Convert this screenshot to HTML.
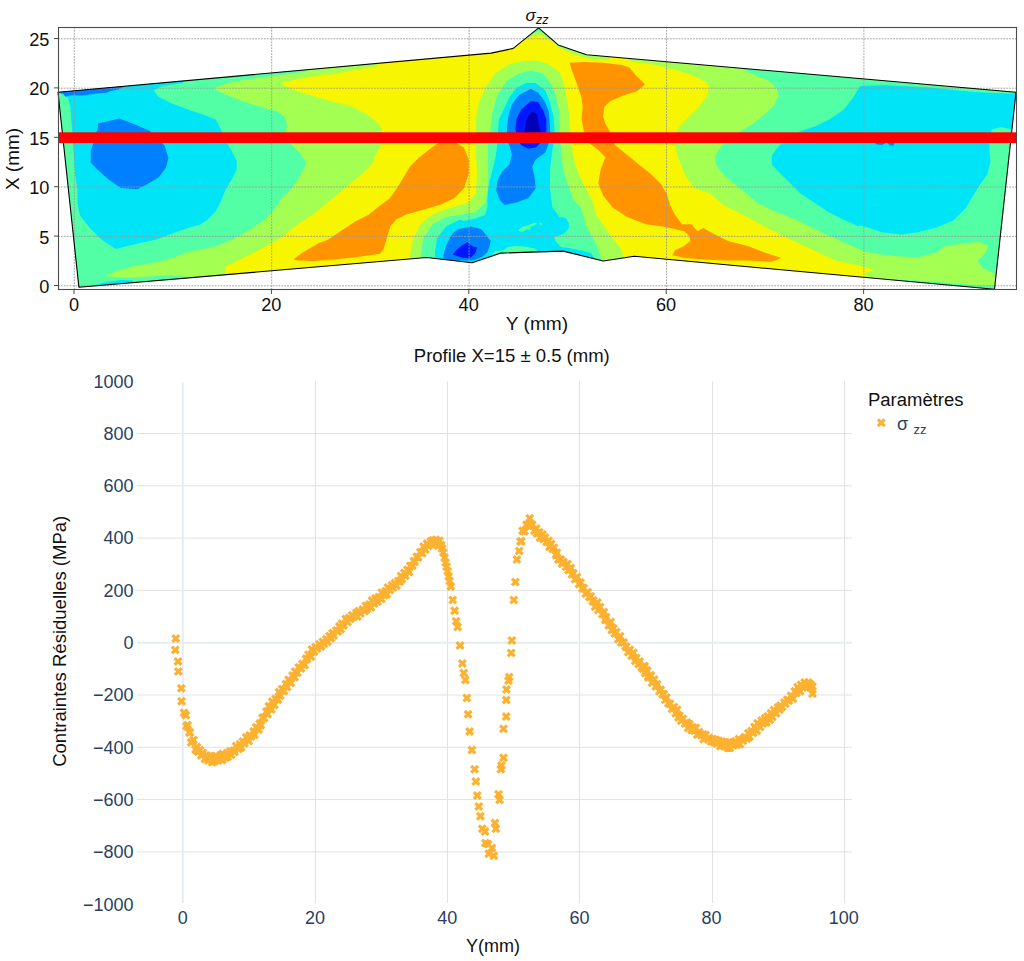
<!DOCTYPE html>
<html><head><meta charset="utf-8"><style>
html,body{margin:0;padding:0;background:#fff;}
svg{display:block;}
svg text{font-family:"Liberation Sans",sans-serif;}
</style></head><body>
<svg width="1024" height="961" viewBox="0 0 1024 961">
<rect width="1024" height="961" fill="#fff"/>
<defs><clipPath id="cp"><path d="M58.0,92.2 L491.2,53.1 L513.2,48.4 L538.6,27.9 L558.2,44.9 L586.5,54.7 L1016.0,92.2 L994.5,289.3 L634.3,256.3 L603.3,261.0 L563.1,251.1 L500.8,253.1 L472.1,262.8 L426.7,257.5 L78.9,287.3 Z"/></clipPath></defs>
<g clip-path="url(#cp)">
<path d="M58.0,92.2 L491.2,53.1 L513.2,48.4 L538.6,27.9 L558.2,44.9 L586.5,54.7 L1016.0,92.2 L994.5,289.3 L634.3,256.3 L603.3,261.0 L563.1,251.1 L500.8,253.1 L472.1,262.8 L426.7,257.5 L78.9,287.3 Z" fill="#f8f500"/>
<path d="M40.0,70.0 L378.0,50.0 L378.0,66.0 L357.2,69.5 L334.3,74.0 L313.7,77.5 L337.3,71.4 L314.4,76.0 L291.6,80.6 L280.1,82.9 L296.1,90.9 L319.0,97.8 L341.9,104.6 L360.0,108.1 L334.3,101.5 L352.6,107.2 L366.4,114.1 L375.5,121.0 L382.4,129.0 L381.3,133.5 L382.0,143.5 L376.1,154.1 L372.6,163.4 L362.0,174.0 L348.0,185.7 L332.7,198.6 L315.2,212.7 L296.4,225.6 L284.7,234.9 L280.0,238.4 L259.5,250.0 L241.2,259.1 L225.2,267.1 L226.0,300.0 L40.0,300.0 Z" fill="#a4ff53"/>
<path d="M409.0,275.0 L409.9,256.0 L412.2,242.3 L419.0,226.2 L428.2,217.1 L441.9,210.2 L468.7,202.6 L475.9,193.1 L477.1,173.9 L475.9,154.8 L475.9,135.7 L475.9,118.9 L478.3,104.6 L485.4,87.8 L495.0,73.5 L509.4,63.9 L523.7,61.0 L535.7,60.6 L547.6,63.4 L559.6,72.3 L564.4,85.4 L566.8,99.8 L569.2,114.1 L570.4,130.9 L571.5,145.2 L573.9,159.6 L578.7,173.9 L585.9,188.3 L593.1,202.6 L595.9,214.6 L612.6,238.5 L622.2,250.5 L624.6,269.6 Z" fill="#a4ff53"/>
<path d="M629.0,40.0 L627.0,57.9 L629.4,61.0 L655.7,65.1 L679.6,71.1 L693.9,75.9 L705.9,81.9 L709.5,87.8 L705.9,97.4 L698.7,107.0 L689.2,116.5 L679.6,126.1 L674.8,135.7 L674.8,145.2 L677.2,154.8 L684.4,173.9 L693.9,188.3 L709.6,193.5 L723.9,205.5 L743.1,215.0 L760.0,224.1 L777.6,233.3 L795.2,241.7 L812.7,249.9 L836.2,260.8 L860.0,265.7 L874.7,270.0 L865.2,272.9 L865.2,299.2 L1030.0,300.0 L1030.0,40.0 Z" fill="#a4ff53"/>
<path d="M525.4,39.6 L534.2,35.7 L542.0,35.7 L551.8,41.6 L538.5,21.1 Z" fill="#a4ff53"/>
<path d="M554.7,36.7 L556.6,46.9 L574.2,54.3 L585.9,58.2 L609.4,60.2 L609.4,44.5 Z" fill="#a4ff53"/>
<path d="M40.0,70.0 L310.0,55.0 L310.0,69.0 L303.0,71.9 L268.7,76.5 L245.8,79.5 L227.5,82.9 L213.7,87.9 L213.7,88.6 L227.5,95.5 L245.8,102.3 L264.1,108.1 L277.8,111.5 L284.7,117.2 L287.0,124.1 L285.8,131.0 L289.3,140.1 L291.6,144.7 L300.7,153.8 L306.4,163.0 L300.7,174.4 L291.6,188.2 L282.4,197.3 L273.2,211.1 L264.1,220.2 L250.4,229.4 L234.3,238.5 L218.3,245.4 L200.0,250.0 L189.9,251.3 L170.8,258.5 L151.7,263.3 L134.9,265.7 L118.2,270.5 L106.2,275.3 L103.8,277.7 L99.1,294.4 L40.0,300.0 Z" fill="#53ffa4"/>
<path d="M95.2,290.3 L95.2,277.4 L104.5,276.2 L125.6,277.7 L149.1,276.5 L172.5,275.3 L186.6,276.7 L191.2,290.3 Z" fill="#53ffa4"/>
<path d="M420.2,269.7 L421.3,251.4 L423.6,237.7 L432.8,224.0 L446.5,217.1 L460.0,214.8 L475.9,212.2 L485.4,202.6 L487.8,188.3 L487.8,169.2 L487.8,145.2 L490.2,130.9 L492.6,111.8 L497.4,95.0 L507.0,80.7 L518.9,73.5 L530.9,70.6 L542.8,73.5 L552.4,85.4 L557.2,99.8 L559.6,114.1 L559.6,130.9 L560.8,145.2 L562.0,159.6 L564.4,173.9 L569.2,188.3 L573.9,200.2 L581.1,207.4 L586.3,226.6 L595.9,243.3 L601.9,260.0 L603.1,269.6 Z" fill="#53ffa4"/>
<path d="M731.1,38.0 L731.1,64.4 L752.6,73.9 L769.4,81.1 L776.5,88.3 L778.9,95.4 L774.1,105.0 L764.6,114.6 L752.6,124.1 L740.7,131.3 L721.5,145.7 L715.5,155.2 L715.5,162.4 L719.1,169.6 L728.7,179.2 L743.1,191.1 L757.4,203.1 L771.8,210.2 L790.9,217.4 L771.7,211.0 L795.2,219.2 L818.6,230.9 L842.0,241.5 L863.1,250.9 L880.0,254.4 L893.9,256.1 L917.8,257.3 L936.9,252.5 L944.1,246.6 L958.5,244.2 L977.6,241.8 L988.4,245.4 L984.8,253.7 L977.6,260.9 L982.4,268.1 L995.5,274.1 L1030.0,280.0 L1030.0,40.0 Z" fill="#53ffa4"/>
<path d="M531.2,33.8 L538.5,31.2 L545.9,33.8 L538.5,21.1 Z" fill="#53ffa4"/>
<path d="M59.6,83.9 L154.1,74.4 L154.1,86.3 L154.1,91.1 L158.8,97.1 L170.8,103.1 L189.9,110.2 L204.3,115.0 L216.0,119.8 L209.2,113.8 L216.0,119.5 L220.6,128.7 L225.2,140.1 L232.0,151.6 L236.6,160.7 L236.6,169.9 L232.0,179.0 L225.2,190.5 L220.6,201.9 L216.0,211.1 L206.9,220.2 L200.0,224.8 L189.9,227.4 L175.6,232.2 L156.5,239.4 L134.9,244.2 L115.8,249.0 L101.4,239.4 L89.5,227.4 L79.9,215.5 L77.5,203.5 L77.5,189.2 L75.1,174.8 L73.9,155.7 L72.7,136.5 L71.5,122.2 L70.4,107.8 L68.0,98.3 L60.8,93.5 L56.0,83.9 Z" fill="#00e4f8"/>
<path d="M90.5,290.3 L92.8,285.6 L106.9,281.9 L120.9,280.0 L132.7,280.2 L137.3,290.3 Z" fill="#00e4f8"/>
<path d="M435.0,269.7 L435.0,251.4 L437.3,237.7 L446.5,226.2 L460.0,219.4 L463.7,221.1 L474.9,218.7 L484.9,214.9 L487.4,207.4 L487.4,199.9 L488.1,189.9 L489.9,179.9 L492.4,170.0 L495.5,157.5 L497.4,143.7 L498.0,131.2 L498.7,120.0 L509.4,97.4 L516.5,87.8 L526.1,83.1 L535.7,83.1 L545.2,90.2 L550.0,102.2 L553.6,116.5 L554.8,135.7 L552.4,150.0 L550.0,169.2 L550.0,188.3 L552.4,207.4 L559.6,217.0 L565.8,218.0 L568.9,223.4 L568.9,228.1 L565.0,232.8 L560.3,235.2 L554.1,236.7 L555.6,241.4 L561.1,246.9 L567.3,247.7 L575.2,249.2 L583.0,250.8 L590.8,253.1 L593.9,257.0 L594.7,262.5 L497.4,269.6 Z" fill="#00e4f8"/>
<path d="M491.7,254.1 L495.6,251.3 L503.4,250.2 L508.1,247.0 L515.2,245.9 L522.2,246.2 L526.9,247.0 L534.7,248.6 L538.6,251.7 L539.4,255.6 Z" fill="#53ffa4"/>
<path d="M518.3,230.6 L522.2,226.7 L528.4,225.2 L534.7,222.4 L537.0,223.6 L534.7,225.2 L530.8,226.7 L530.0,230.2 L526.9,229.1 L522.2,232.2 Z" fill="#53ffa4"/>
<path d="M539.4,223.2 L540.9,222.7 L542.1,224.0 L540.5,225.2 Z" fill="#53ffa4"/>
<path d="M880.0,290.0 L890.0,279.5 L920.0,280.5 L950.0,283.0 L980.0,285.5 L996.0,286.0 L996.0,300.0 L880.0,300.0 Z" fill="#53ffa4"/>
<path d="M860.0,85.9 L853.1,97.8 L843.5,109.8 L829.2,119.4 L814.8,126.5 L800.5,131.3 L778.9,145.7 L771.8,155.2 L771.8,164.8 L781.3,174.4 L790.9,183.9 L800.5,193.5 L814.8,203.1 L829.2,212.6 L843.5,219.8 L860.0,227.0 L858.0,225.0 L867.6,227.4 L881.9,232.2 L901.1,234.6 L917.8,232.2 L936.9,227.4 L953.7,220.2 L965.6,208.3 L972.8,196.3 L980.0,184.4 L987.2,174.8 L990.7,160.5 L989.5,150.9 L989.5,138.9 L991.9,129.4 L1001.5,127.0 L1011.1,129.4 L1025.4,129.4 L1025.4,93.5 L1006.3,93.5 L977.6,92.3 L953.7,89.9 L929.8,87.5 L905.8,86.3 L881.9,85.1 L858.0,86.3 Z" fill="#00e4f8"/>
<path d="M535.5,29.7 L538.5,28.9 L541.4,29.7 L538.5,21.1 Z" fill="#00e4f8"/>
<path d="M149.4,75.6 L185.3,74.1 L183.0,83.0 L171.2,84.7 L160.3,86.6 L154.8,90.0 L149.4,90.5 Z" fill="#00e4f8"/>
<path d="M97.9,123.4 L119.4,118.6 L134.9,124.6 L149.3,130.6 L158.8,138.9 L164.8,146.1 L168.4,158.1 L166.0,167.6 L158.8,177.2 L146.9,184.4 L137.3,189.2 L120.6,188.0 L108.6,179.6 L97.9,170.0 L90.7,162.8 L90.7,150.9 L95.5,136.5 L97.9,127.0 Z" fill="#0080ff"/>
<path d="M58.3,90.2 L126.3,84.7 L122.4,87.8 L118.5,89.4 L110.7,90.9 L106.8,92.7 L99.0,93.3 L91.2,94.2 L85.7,95.3 L79.4,95.6 L71.6,95.3 L65.4,96.4 L63.0,93.4 L59.1,92.9 Z" fill="#0080ff"/>
<path d="M874.7,141.3 L893.9,141.3 L893.9,145.6 L890.3,145.6 L886.7,142.5 L881.9,144.9 L875.9,144.2 Z" fill="#0080ff"/>
<path d="M530.9,89.0 L518.9,95.0 L511.8,104.6 L508.2,116.5 L507.0,128.5 L507.0,140.5 L509.4,145.2 L511.8,154.8 L509.4,164.4 L502.2,171.5 L497.4,181.1 L496.2,190.7 L499.8,200.2 L504.6,205.0 L516.5,202.6 L528.5,197.9 L535.7,188.3 L534.5,176.3 L532.1,166.8 L535.7,159.6 L545.2,152.4 L550.0,140.5 L550.0,126.1 L548.8,111.8 L545.2,102.2 L538.1,92.6 Z" fill="#0080ff"/>
<path d="M530.9,101.0 L521.3,109.4 L516.5,118.9 L515.3,128.5 L517.7,140.5 L521.3,145.2 L528.5,148.8 L535.7,147.6 L542.8,140.5 L546.4,130.9 L546.4,118.9 L542.8,109.4 L538.1,102.2 Z" fill="#0018ff"/>
<path d="M532.1,111.8 L536.9,114.1 L538.1,121.3 L539.3,126.1 L540.5,130.9 L540.5,135.7 L523.7,135.7 L524.9,128.5 L526.1,121.3 L528.5,115.3 Z" fill="#0000b6"/>
<path d="M443.4,255.2 L445.7,246.4 L450.4,237.0 L453.9,232.3 L459.1,229.0 L471.1,226.6 L480.7,229.0 L482.0,230.0 L486.7,235.9 L490.8,241.1 L489.1,247.6 L487.3,252.3 L482.0,257.0 L472.7,260.5 L443.4,260.5 Z" fill="#0080ff"/>
<path d="M452.7,254.6 L456.3,249.9 L462.1,245.2 L467.4,242.3 L472.7,246.4 L477.3,247.6 L475.0,253.4 L470.3,258.1 L463.3,258.1 L458.6,256.4 Z" fill="#0018ff"/>
<path d="M293.8,259.1 L303.0,252.3 L319.0,243.1 L327.5,240.0 L341.2,230.8 L354.9,221.7 L368.7,214.8 L380.1,205.6 L389.3,198.8 L396.1,189.6 L403.0,178.2 L409.9,166.7 L419.0,157.6 L430.5,148.4 L437.3,143.8 L440.0,142.8 L452.0,140.5 L463.9,147.6 L468.7,159.6 L468.7,173.9 L463.9,188.3 L454.4,197.9 L440.0,205.0 L437.3,205.6 L421.3,210.2 L405.3,214.8 L396.1,219.4 L390.4,226.2 L387.0,237.7 L383.5,249.1 L380.1,253.7 L357.2,257.1 L334.3,259.4 L311.4,260.6 L300.0,260.6 L337.3,260.3 L314.4,261.0 L296.1,260.3 Z" fill="#ff9400"/>
<path d="M569.6,62.7 L583.9,62.0 L603.1,62.7 L622.2,65.1 L629.4,67.5 L636.5,75.9 L644.9,84.2 L641.3,87.8 L636.5,91.4 L624.6,95.0 L610.2,101.0 L604.2,107.0 L603.1,116.5 L605.4,123.7 L610.2,132.1 L615.0,145.2 L627.0,154.8 L638.9,164.4 L650.9,173.9 L660.5,183.5 L666.4,193.1 L670.0,205.0 L674.8,214.6 L682.0,224.2 L691.5,224.2 L697.5,231.3 L703.5,227.8 L703.6,228.2 L714.4,234.2 L728.7,241.3 L747.8,246.1 L767.0,253.3 L781.3,258.1 L771.8,261.7 L747.8,260.5 L723.9,260.5 L700.0,259.3 L684.4,257.7 L672.4,255.3 L674.8,250.5 L684.4,245.7 L690.4,240.9 L689.2,236.1 L684.4,231.3 L674.8,229.0 L662.8,226.6 L646.1,224.2 L627.0,217.0 L612.6,207.4 L603.1,195.5 L598.3,183.5 L600.7,169.2 L605.4,157.2 L598.3,150.0 L588.7,142.8 L583.9,130.9 L581.5,118.9 L582.7,107.0 L581.5,97.4 L576.7,83.1 L572.0,71.1 Z" fill="#ff9400"/>
</g>
<g stroke="#9a9a9a" stroke-width="0.9" stroke-dasharray="1.8,1.1"><line x1="74.3" y1="27" x2="74.3" y2="290" /><line x1="271.7" y1="27" x2="271.7" y2="290" /><line x1="469.1" y1="27" x2="469.1" y2="290" /><line x1="666.5" y1="27" x2="666.5" y2="290" /><line x1="863.9" y1="27" x2="863.9" y2="290" /><line x1="58" y1="285.8" x2="1016" y2="285.8" /><line x1="58" y1="236.4" x2="1016" y2="236.4" /><line x1="58" y1="187.0" x2="1016" y2="187.0" /><line x1="58" y1="137.6" x2="1016" y2="137.6" /><line x1="58" y1="88.2" x2="1016" y2="88.2" /><line x1="58" y1="38.8" x2="1016" y2="38.8" /></g>
<path d="M58.0,92.2 L491.2,53.1 L513.2,48.4 L538.6,27.9 L558.2,44.9 L586.5,54.7 L1016.0,92.2 L994.5,289.3 L634.3,256.3 L603.3,261.0 L563.1,251.1 L500.8,253.1 L472.1,262.8 L426.7,257.5 L78.9,287.3 Z" fill="none" stroke="#000" stroke-width="1.1" stroke-linejoin="round"/>
<rect x="58" y="132.3" width="958.5" height="10.8" fill="#ff0000"/>
<rect x="58.5" y="27.5" width="958" height="262" fill="none" stroke="#4a4a4a" stroke-width="1.1"/>
<g stroke="#4a4a4a" stroke-width="1"><line x1="74.0" y1="290" x2="74.0" y2="294"/><line x1="271.4" y1="290" x2="271.4" y2="294"/><line x1="468.8" y1="290" x2="468.8" y2="294"/><line x1="666.2" y1="290" x2="666.2" y2="294"/><line x1="863.6" y1="290" x2="863.6" y2="294"/><line x1="54" y1="285.5" x2="58" y2="285.5"/><line x1="54" y1="236.1" x2="58" y2="236.1"/><line x1="54" y1="186.7" x2="58" y2="186.7"/><line x1="54" y1="137.3" x2="58" y2="137.3"/><line x1="54" y1="87.9" x2="58" y2="87.9"/><line x1="54" y1="38.5" x2="58" y2="38.5"/></g>
<g font-family="Liberation Sans, sans-serif" font-size="18.3" fill="#111"><text x="39.3" y="292.9" textLength="10.1" lengthAdjust="spacingAndGlyphs">0</text><text x="39.3" y="243.5" textLength="10.1" lengthAdjust="spacingAndGlyphs">5</text><text x="29.2" y="194.1" textLength="20.2" lengthAdjust="spacingAndGlyphs">10</text><text x="29.2" y="144.7" textLength="20.2" lengthAdjust="spacingAndGlyphs">15</text><text x="29.2" y="95.3" textLength="20.2" lengthAdjust="spacingAndGlyphs">20</text><text x="29.2" y="45.9" textLength="20.2" lengthAdjust="spacingAndGlyphs">25</text><text x="68.9" y="310.7" textLength="10.1" lengthAdjust="spacingAndGlyphs">0</text><text x="261.2" y="310.7" textLength="20.2" lengthAdjust="spacingAndGlyphs">20</text><text x="458.6" y="310.7" textLength="20.2" lengthAdjust="spacingAndGlyphs">40</text><text x="656.0" y="310.7" textLength="20.2" lengthAdjust="spacingAndGlyphs">60</text><text x="853.4" y="310.7" textLength="20.2" lengthAdjust="spacingAndGlyphs">80</text></g>
<text x="505.8" y="330.2" textLength="62.4" lengthAdjust="spacingAndGlyphs" font-family="Liberation Sans, sans-serif" font-size="17.5" fill="#111">Y (mm)</text>
<text transform="translate(19.2,159) rotate(-90)" x="-31" textLength="62" lengthAdjust="spacingAndGlyphs" font-family="Liberation Sans, sans-serif" font-size="17.5" fill="#111">X (mm)</text>
<text x="537" y="21" text-anchor="middle" font-family="Liberation Sans, sans-serif" font-size="17" fill="#111" font-style="italic">σ<tspan font-size="12.5" dy="3">zz</tspan></text>
<line x1="137" y1="433.5" x2="852" y2="433.5" stroke="#e2e2e2" stroke-width="1"/><line x1="137" y1="485.8" x2="852" y2="485.8" stroke="#e2e2e2" stroke-width="1"/><line x1="137" y1="538.1" x2="852" y2="538.1" stroke="#e2e2e2" stroke-width="1"/><line x1="137" y1="590.4" x2="852" y2="590.4" stroke="#e2e2e2" stroke-width="1"/><line x1="137" y1="695.0" x2="852" y2="695.0" stroke="#e2e2e2" stroke-width="1"/><line x1="137" y1="747.3" x2="852" y2="747.3" stroke="#e2e2e2" stroke-width="1"/><line x1="137" y1="799.6" x2="852" y2="799.6" stroke="#e2e2e2" stroke-width="1"/><line x1="137" y1="851.9" x2="852" y2="851.9" stroke="#e2e2e2" stroke-width="1"/><line x1="315.5" y1="381.7" x2="315.5" y2="903" stroke="#e2e2e2" stroke-width="1"/><line x1="447.5" y1="381.7" x2="447.5" y2="903" stroke="#e2e2e2" stroke-width="1"/><line x1="579.5" y1="381.7" x2="579.5" y2="903" stroke="#e2e2e2" stroke-width="1"/><line x1="712.5" y1="381.7" x2="712.5" y2="903" stroke="#e2e2e2" stroke-width="1"/><line x1="844.5" y1="381.7" x2="844.5" y2="903" stroke="#e2e2e2" stroke-width="1"/><line x1="137" y1="642.7" x2="852" y2="642.7" stroke="#e6ecf6" stroke-width="2"/><line x1="182.8" y1="381.7" x2="182.8" y2="903" stroke="#e6ecf6" stroke-width="2"/>
<g font-family="Liberation Sans, sans-serif" font-size="18" fill="#2a3f5f"><text x="133.5" y="387.5" text-anchor="end">1000</text><text x="133.5" y="439.8" text-anchor="end">800</text><text x="133.5" y="492.1" text-anchor="end">600</text><text x="133.5" y="544.4" text-anchor="end">400</text><text x="133.5" y="596.7" text-anchor="end">200</text><text x="133.5" y="649.0" text-anchor="end">0</text><text x="133.5" y="701.3" text-anchor="end">−200</text><text x="133.5" y="753.6" text-anchor="end">−400</text><text x="133.5" y="805.9" text-anchor="end">−600</text><text x="133.5" y="858.2" text-anchor="end">−800</text><text x="133.5" y="910.5" text-anchor="end">−1000</text><text x="182.8" y="923.8" text-anchor="middle">0</text><text x="315.0" y="923.8" text-anchor="middle">20</text><text x="447.2" y="923.8" text-anchor="middle">40</text><text x="579.4" y="923.8" text-anchor="middle">60</text><text x="711.6" y="923.8" text-anchor="middle">80</text><text x="843.8" y="923.8" text-anchor="middle">100</text></g>
<text x="413.8" y="362" textLength="196" lengthAdjust="spacingAndGlyphs" font-family="Liberation Sans, sans-serif" font-size="18.3" fill="#111">Profile X=15 ± 0.5 (mm)</text>
<text x="493" y="952" text-anchor="middle" font-family="Liberation Sans, sans-serif" font-size="18" fill="#111">Y(mm)</text>
<text transform="translate(65.6,641.3) rotate(-90)" x="-125.5" textLength="251" lengthAdjust="spacingAndGlyphs" font-family="Liberation Sans, sans-serif" font-size="18.2" fill="#111">Contraintes Résiduelles (MPa)</text>
<text x="868" y="406" textLength="95.5" lengthAdjust="spacingAndGlyphs" font-family="Liberation Sans, sans-serif" font-size="18" fill="#111">Paramètres</text>
<text x="897" y="430" font-family="Liberation Sans, sans-serif" font-size="18" fill="#2a3f5f">σ<tspan font-size="13" dx="5.5" dy="4">zz</tspan></text>
<path d="M175.8,640.86l2.26,2.26l2.26,-2.26l-2.26,-2.26l2.26,-2.26l-2.26,-2.26l-2.26,2.26l-2.26,-2.26l-2.26,2.26l2.26,2.26l-2.26,2.26l2.26,2.26ZM175.3,652.26l2.26,2.26l2.26,-2.26l-2.26,-2.26l2.26,-2.26l-2.26,-2.26l-2.26,2.26l-2.26,-2.26l-2.26,2.26l2.26,2.26l-2.26,2.26l2.26,2.26ZM178.0,663.86l2.26,2.26l2.26,-2.26l-2.26,-2.26l2.26,-2.26l-2.26,-2.26l-2.26,2.26l-2.26,-2.26l-2.26,2.26l2.26,2.26l-2.26,2.26l2.26,2.26ZM178.3,673.86l2.26,2.26l2.26,-2.26l-2.26,-2.26l2.26,-2.26l-2.26,-2.26l-2.26,2.26l-2.26,-2.26l-2.26,2.26l2.26,2.26l-2.26,2.26l2.26,2.26ZM181.3,690.46l2.26,2.26l2.26,-2.26l-2.26,-2.26l2.26,-2.26l-2.26,-2.26l-2.26,2.26l-2.26,-2.26l-2.26,2.26l2.26,2.26l-2.26,2.26l2.26,2.26ZM181.6,703.46l2.26,2.26l2.26,-2.26l-2.26,-2.26l2.26,-2.26l-2.26,-2.26l-2.26,2.26l-2.26,-2.26l-2.26,2.26l2.26,2.26l-2.26,2.26l2.26,2.26ZM442.2,550.76l2.26,2.26l2.26,-2.26l-2.26,-2.26l2.26,-2.26l-2.26,-2.26l-2.26,2.26l-2.26,-2.26l-2.26,2.26l2.26,2.26l-2.26,2.26l2.26,2.26ZM443.4,554.86l2.26,2.26l2.26,-2.26l-2.26,-2.26l2.26,-2.26l-2.26,-2.26l-2.26,2.26l-2.26,-2.26l-2.26,2.26l2.26,2.26l-2.26,2.26l2.26,2.26ZM444.6,559.96l2.26,2.26l2.26,-2.26l-2.26,-2.26l2.26,-2.26l-2.26,-2.26l-2.26,2.26l-2.26,-2.26l-2.26,2.26l2.26,2.26l-2.26,2.26l2.26,2.26ZM445.6,564.76l2.26,2.26l2.26,-2.26l-2.26,-2.26l2.26,-2.26l-2.26,-2.26l-2.26,2.26l-2.26,-2.26l-2.26,2.26l2.26,2.26l-2.26,2.26l2.26,2.26ZM446.6,569.06l2.26,2.26l2.26,-2.26l-2.26,-2.26l2.26,-2.26l-2.26,-2.26l-2.26,2.26l-2.26,-2.26l-2.26,2.26l2.26,2.26l-2.26,2.26l2.26,2.26ZM448.6,578.76l2.26,2.26l2.26,-2.26l-2.26,-2.26l2.26,-2.26l-2.26,-2.26l-2.26,2.26l-2.26,-2.26l-2.26,2.26l2.26,2.26l-2.26,2.26l2.26,2.26ZM449.6,583.26l2.26,2.26l2.26,-2.26l-2.26,-2.26l2.26,-2.26l-2.26,-2.26l-2.26,2.26l-2.26,-2.26l-2.26,2.26l2.26,2.26l-2.26,2.26l2.26,2.26ZM447.7,573.46l2.26,2.26l2.26,-2.26l-2.26,-2.26l2.26,-2.26l-2.26,-2.26l-2.26,2.26l-2.26,-2.26l-2.26,2.26l2.26,2.26l-2.26,2.26l2.26,2.26ZM450.8,588.76l2.26,2.26l2.26,-2.26l-2.26,-2.26l2.26,-2.26l-2.26,-2.26l-2.26,2.26l-2.26,-2.26l-2.26,2.26l2.26,2.26l-2.26,2.26l2.26,2.26ZM452.7,602.26l2.26,2.26l2.26,-2.26l-2.26,-2.26l2.26,-2.26l-2.26,-2.26l-2.26,2.26l-2.26,-2.26l-2.26,2.26l2.26,2.26l-2.26,2.26l2.26,2.26ZM454.6,613.06l2.26,2.26l2.26,-2.26l-2.26,-2.26l2.26,-2.26l-2.26,-2.26l-2.26,2.26l-2.26,-2.26l-2.26,2.26l2.26,2.26l-2.26,2.26l2.26,2.26ZM456.2,623.46l2.26,2.26l2.26,-2.26l-2.26,-2.26l2.26,-2.26l-2.26,-2.26l-2.26,2.26l-2.26,-2.26l-2.26,2.26l2.26,2.26l-2.26,2.26l2.26,2.26ZM457.7,629.16l2.26,2.26l2.26,-2.26l-2.26,-2.26l2.26,-2.26l-2.26,-2.26l-2.26,2.26l-2.26,-2.26l-2.26,2.26l2.26,2.26l-2.26,2.26l2.26,2.26ZM460.0,647.66l2.26,2.26l2.26,-2.26l-2.26,-2.26l2.26,-2.26l-2.26,-2.26l-2.26,2.26l-2.26,-2.26l-2.26,2.26l2.26,2.26l-2.26,2.26l2.26,2.26ZM462.3,665.76l2.26,2.26l2.26,-2.26l-2.26,-2.26l2.26,-2.26l-2.26,-2.26l-2.26,2.26l-2.26,-2.26l-2.26,2.26l2.26,2.26l-2.26,2.26l2.26,2.26ZM463.8,675.36l2.26,2.26l2.26,-2.26l-2.26,-2.26l2.26,-2.26l-2.26,-2.26l-2.26,2.26l-2.26,-2.26l-2.26,2.26l2.26,2.26l-2.26,2.26l2.26,2.26ZM465.4,682.26l2.26,2.26l2.26,-2.26l-2.26,-2.26l2.26,-2.26l-2.26,-2.26l-2.26,2.26l-2.26,-2.26l-2.26,2.26l2.26,2.26l-2.26,2.26l2.26,2.26ZM466.9,700.36l2.26,2.26l2.26,-2.26l-2.26,-2.26l2.26,-2.26l-2.26,-2.26l-2.26,2.26l-2.26,-2.26l-2.26,2.26l2.26,2.26l-2.26,2.26l2.26,2.26ZM468.1,716.46l2.26,2.26l2.26,-2.26l-2.26,-2.26l2.26,-2.26l-2.26,-2.26l-2.26,2.26l-2.26,-2.26l-2.26,2.26l2.26,2.26l-2.26,2.26l2.26,2.26ZM469.6,733.76l2.26,2.26l2.26,-2.26l-2.26,-2.26l2.26,-2.26l-2.26,-2.26l-2.26,2.26l-2.26,-2.26l-2.26,2.26l2.26,2.26l-2.26,2.26l2.26,2.26ZM471.9,752.26l2.26,2.26l2.26,-2.26l-2.26,-2.26l2.26,-2.26l-2.26,-2.26l-2.26,2.26l-2.26,-2.26l-2.26,2.26l2.26,2.26l-2.26,2.26l2.26,2.26ZM474.6,771.46l2.26,2.26l2.26,-2.26l-2.26,-2.26l2.26,-2.26l-2.26,-2.26l-2.26,2.26l-2.26,-2.26l-2.26,2.26l2.26,2.26l-2.26,2.26l2.26,2.26ZM475.8,783.76l2.26,2.26l2.26,-2.26l-2.26,-2.26l2.26,-2.26l-2.26,-2.26l-2.26,2.26l-2.26,-2.26l-2.26,2.26l2.26,2.26l-2.26,2.26l2.26,2.26ZM477.3,797.66l2.26,2.26l2.26,-2.26l-2.26,-2.26l2.26,-2.26l-2.26,-2.26l-2.26,2.26l-2.26,-2.26l-2.26,2.26l2.26,2.26l-2.26,2.26l2.26,2.26ZM478.8,808.76l2.26,2.26l2.26,-2.26l-2.26,-2.26l2.26,-2.26l-2.26,-2.26l-2.26,2.26l-2.26,-2.26l-2.26,2.26l2.26,2.26l-2.26,2.26l2.26,2.26ZM480.4,818.46l2.26,2.26l2.26,-2.26l-2.26,-2.26l2.26,-2.26l-2.26,-2.26l-2.26,2.26l-2.26,-2.26l-2.26,2.26l2.26,2.26l-2.26,2.26l2.26,2.26ZM482.3,831.06l2.26,2.26l2.26,-2.26l-2.26,-2.26l2.26,-2.26l-2.26,-2.26l-2.26,2.26l-2.26,-2.26l-2.26,2.26l2.26,2.26l-2.26,2.26l2.26,2.26ZM485.0,833.76l2.26,2.26l2.26,-2.26l-2.26,-2.26l2.26,-2.26l-2.26,-2.26l-2.26,2.26l-2.26,-2.26l-2.26,2.26l2.26,2.26l-2.26,2.26l2.26,2.26ZM485.4,845.36l2.26,2.26l2.26,-2.26l-2.26,-2.26l2.26,-2.26l-2.26,-2.26l-2.26,2.26l-2.26,-2.26l-2.26,2.26l2.26,2.26l-2.26,2.26l2.26,2.26ZM488.1,846.46l2.26,2.26l2.26,-2.26l-2.26,-2.26l2.26,-2.26l-2.26,-2.26l-2.26,2.26l-2.26,-2.26l-2.26,2.26l2.26,2.26l-2.26,2.26l2.26,2.26ZM488.8,856.06l2.26,2.26l2.26,-2.26l-2.26,-2.26l2.26,-2.26l-2.26,-2.26l-2.26,2.26l-2.26,-2.26l-2.26,2.26l2.26,2.26l-2.26,2.26l2.26,2.26ZM491.9,850.36l2.26,2.26l2.26,-2.26l-2.26,-2.26l2.26,-2.26l-2.26,-2.26l-2.26,2.26l-2.26,-2.26l-2.26,2.26l2.26,2.26l-2.26,2.26l2.26,2.26ZM493.8,858.06l2.26,2.26l2.26,-2.26l-2.26,-2.26l2.26,-2.26l-2.26,-2.26l-2.26,2.26l-2.26,-2.26l-2.26,2.26l2.26,2.26l-2.26,2.26l2.26,2.26ZM495.0,825.36l2.26,2.26l2.26,-2.26l-2.26,-2.26l2.26,-2.26l-2.26,-2.26l-2.26,2.26l-2.26,-2.26l-2.26,2.26l2.26,2.26l-2.26,2.26l2.26,2.26ZM495.8,831.06l2.26,2.26l2.26,-2.26l-2.26,-2.26l2.26,-2.26l-2.26,-2.26l-2.26,2.26l-2.26,-2.26l-2.26,2.26l2.26,2.26l-2.26,2.26l2.26,2.26ZM498.5,796.46l2.26,2.26l2.26,-2.26l-2.26,-2.26l2.26,-2.26l-2.26,-2.26l-2.26,2.26l-2.26,-2.26l-2.26,2.26l2.26,2.26l-2.26,2.26l2.26,2.26ZM499.6,802.26l2.26,2.26l2.26,-2.26l-2.26,-2.26l2.26,-2.26l-2.26,-2.26l-2.26,2.26l-2.26,-2.26l-2.26,2.26l2.26,2.26l-2.26,2.26l2.26,2.26ZM500.8,771.46l2.26,2.26l2.26,-2.26l-2.26,-2.26l2.26,-2.26l-2.26,-2.26l-2.26,2.26l-2.26,-2.26l-2.26,2.26l2.26,2.26l-2.26,2.26l2.26,2.26ZM501.5,767.66l2.26,2.26l2.26,-2.26l-2.26,-2.26l2.26,-2.26l-2.26,-2.26l-2.26,2.26l-2.26,-2.26l-2.26,2.26l2.26,2.26l-2.26,2.26l2.26,2.26ZM503.5,759.96l2.26,2.26l2.26,-2.26l-2.26,-2.26l2.26,-2.26l-2.26,-2.26l-2.26,2.26l-2.26,-2.26l-2.26,2.26l2.26,2.26l-2.26,2.26l2.26,2.26ZM503.5,731.06l2.26,2.26l2.26,-2.26l-2.26,-2.26l2.26,-2.26l-2.26,-2.26l-2.26,2.26l-2.26,-2.26l-2.26,2.26l2.26,2.26l-2.26,2.26l2.26,2.26ZM506.2,718.76l2.26,2.26l2.26,-2.26l-2.26,-2.26l2.26,-2.26l-2.26,-2.26l-2.26,2.26l-2.26,-2.26l-2.26,2.26l2.26,2.26l-2.26,2.26l2.26,2.26ZM506.2,702.26l2.26,2.26l2.26,-2.26l-2.26,-2.26l2.26,-2.26l-2.26,-2.26l-2.26,2.26l-2.26,-2.26l-2.26,2.26l2.26,2.26l-2.26,2.26l2.26,2.26ZM506.5,691.86l2.26,2.26l2.26,-2.26l-2.26,-2.26l2.26,-2.26l-2.26,-2.26l-2.26,2.26l-2.26,-2.26l-2.26,2.26l2.26,2.26l-2.26,2.26l2.26,2.26ZM508.5,683.06l2.26,2.26l2.26,-2.26l-2.26,-2.26l2.26,-2.26l-2.26,-2.26l-2.26,2.26l-2.26,-2.26l-2.26,2.26l2.26,2.26l-2.26,2.26l2.26,2.26ZM509.2,679.16l2.26,2.26l2.26,-2.26l-2.26,-2.26l2.26,-2.26l-2.26,-2.26l-2.26,2.26l-2.26,-2.26l-2.26,2.26l2.26,2.26l-2.26,2.26l2.26,2.26ZM511.2,655.36l2.26,2.26l2.26,-2.26l-2.26,-2.26l2.26,-2.26l-2.26,-2.26l-2.26,2.26l-2.26,-2.26l-2.26,2.26l2.26,2.26l-2.26,2.26l2.26,2.26ZM511.9,642.66l2.26,2.26l2.26,-2.26l-2.26,-2.26l2.26,-2.26l-2.26,-2.26l-2.26,2.26l-2.26,-2.26l-2.26,2.26l2.26,2.26l-2.26,2.26l2.26,2.26ZM513.8,602.26l2.26,2.26l2.26,-2.26l-2.26,-2.26l2.26,-2.26l-2.26,-2.26l-2.26,2.26l-2.26,-2.26l-2.26,2.26l2.26,2.26l-2.26,2.26l2.26,2.26ZM515.4,584.16l2.26,2.26l2.26,-2.26l-2.26,-2.26l2.26,-2.26l-2.26,-2.26l-2.26,2.26l-2.26,-2.26l-2.26,2.26l2.26,2.26l-2.26,2.26l2.26,2.26ZM516.9,561.86l2.26,2.26l2.26,-2.26l-2.26,-2.26l2.26,-2.26l-2.26,-2.26l-2.26,2.26l-2.26,-2.26l-2.26,2.26l2.26,2.26l-2.26,2.26l2.26,2.26ZM812.5,696.06l2.26,2.26l2.26,-2.26l-2.26,-2.26l2.26,-2.26l-2.26,-2.26l-2.26,2.26l-2.26,-2.26l-2.26,2.26l2.26,2.26l-2.26,2.26l2.26,2.26ZM184.0,715.10l2.26,2.26l2.26,-2.26l-2.26,-2.26l2.26,-2.26l-2.26,-2.26l-2.26,2.26l-2.26,-2.26l-2.26,2.26l2.26,2.26l-2.26,2.26l2.26,2.26ZM185.9,717.53l2.26,2.26l2.26,-2.26l-2.26,-2.26l2.26,-2.26l-2.26,-2.26l-2.26,2.26l-2.26,-2.26l-2.26,2.26l2.26,2.26l-2.26,2.26l2.26,2.26ZM186.6,728.47l2.26,2.26l2.26,-2.26l-2.26,-2.26l2.26,-2.26l-2.26,-2.26l-2.26,2.26l-2.26,-2.26l-2.26,2.26l2.26,2.26l-2.26,2.26l2.26,2.26ZM187.5,727.24l2.26,2.26l2.26,-2.26l-2.26,-2.26l2.26,-2.26l-2.26,-2.26l-2.26,2.26l-2.26,-2.26l-2.26,2.26l2.26,2.26l-2.26,2.26l2.26,2.26ZM189.3,734.86l2.26,2.26l2.26,-2.26l-2.26,-2.26l2.26,-2.26l-2.26,-2.26l-2.26,2.26l-2.26,-2.26l-2.26,2.26l2.26,2.26l-2.26,2.26l2.26,2.26ZM189.9,734.64l2.26,2.26l2.26,-2.26l-2.26,-2.26l2.26,-2.26l-2.26,-2.26l-2.26,2.26l-2.26,-2.26l-2.26,2.26l2.26,2.26l-2.26,2.26l2.26,2.26ZM191.1,744.80l2.26,2.26l2.26,-2.26l-2.26,-2.26l2.26,-2.26l-2.26,-2.26l-2.26,2.26l-2.26,-2.26l-2.26,2.26l2.26,2.26l-2.26,2.26l2.26,2.26ZM193.5,742.31l2.26,2.26l2.26,-2.26l-2.26,-2.26l2.26,-2.26l-2.26,-2.26l-2.26,2.26l-2.26,-2.26l-2.26,2.26l2.26,2.26l-2.26,2.26l2.26,2.26ZM195.6,751.88l2.26,2.26l2.26,-2.26l-2.26,-2.26l2.26,-2.26l-2.26,-2.26l-2.26,2.26l-2.26,-2.26l-2.26,2.26l2.26,2.26l-2.26,2.26l2.26,2.26ZM196.9,749.27l2.26,2.26l2.26,-2.26l-2.26,-2.26l2.26,-2.26l-2.26,-2.26l-2.26,2.26l-2.26,-2.26l-2.26,2.26l2.26,2.26l-2.26,2.26l2.26,2.26ZM197.9,754.06l2.26,2.26l2.26,-2.26l-2.26,-2.26l2.26,-2.26l-2.26,-2.26l-2.26,2.26l-2.26,-2.26l-2.26,2.26l2.26,2.26l-2.26,2.26l2.26,2.26ZM200.0,752.40l2.26,2.26l2.26,-2.26l-2.26,-2.26l2.26,-2.26l-2.26,-2.26l-2.26,2.26l-2.26,-2.26l-2.26,2.26l2.26,2.26l-2.26,2.26l2.26,2.26ZM201.3,757.82l2.26,2.26l2.26,-2.26l-2.26,-2.26l2.26,-2.26l-2.26,-2.26l-2.26,2.26l-2.26,-2.26l-2.26,2.26l2.26,2.26l-2.26,2.26l2.26,2.26ZM202.8,755.33l2.26,2.26l2.26,-2.26l-2.26,-2.26l2.26,-2.26l-2.26,-2.26l-2.26,2.26l-2.26,-2.26l-2.26,2.26l2.26,2.26l-2.26,2.26l2.26,2.26ZM204.9,761.22l2.26,2.26l2.26,-2.26l-2.26,-2.26l2.26,-2.26l-2.26,-2.26l-2.26,2.26l-2.26,-2.26l-2.26,2.26l2.26,2.26l-2.26,2.26l2.26,2.26ZM206.7,757.72l2.26,2.26l2.26,-2.26l-2.26,-2.26l2.26,-2.26l-2.26,-2.26l-2.26,2.26l-2.26,-2.26l-2.26,2.26l2.26,2.26l-2.26,2.26l2.26,2.26ZM208.3,762.75l2.26,2.26l2.26,-2.26l-2.26,-2.26l2.26,-2.26l-2.26,-2.26l-2.26,2.26l-2.26,-2.26l-2.26,2.26l2.26,2.26l-2.26,2.26l2.26,2.26ZM209.9,758.25l2.26,2.26l2.26,-2.26l-2.26,-2.26l2.26,-2.26l-2.26,-2.26l-2.26,2.26l-2.26,-2.26l-2.26,2.26l2.26,2.26l-2.26,2.26l2.26,2.26ZM212.2,764.40l2.26,2.26l2.26,-2.26l-2.26,-2.26l2.26,-2.26l-2.26,-2.26l-2.26,2.26l-2.26,-2.26l-2.26,2.26l2.26,2.26l-2.26,2.26l2.26,2.26ZM213.7,760.13l2.26,2.26l2.26,-2.26l-2.26,-2.26l2.26,-2.26l-2.26,-2.26l-2.26,2.26l-2.26,-2.26l-2.26,2.26l2.26,2.26l-2.26,2.26l2.26,2.26ZM214.7,763.41l2.26,2.26l2.26,-2.26l-2.26,-2.26l2.26,-2.26l-2.26,-2.26l-2.26,2.26l-2.26,-2.26l-2.26,2.26l2.26,2.26l-2.26,2.26l2.26,2.26ZM216.3,758.37l2.26,2.26l2.26,-2.26l-2.26,-2.26l2.26,-2.26l-2.26,-2.26l-2.26,2.26l-2.26,-2.26l-2.26,2.26l2.26,2.26l-2.26,2.26l2.26,2.26ZM218.5,762.50l2.26,2.26l2.26,-2.26l-2.26,-2.26l2.26,-2.26l-2.26,-2.26l-2.26,2.26l-2.26,-2.26l-2.26,2.26l2.26,2.26l-2.26,2.26l2.26,2.26ZM220.3,757.81l2.26,2.26l2.26,-2.26l-2.26,-2.26l2.26,-2.26l-2.26,-2.26l-2.26,2.26l-2.26,-2.26l-2.26,2.26l2.26,2.26l-2.26,2.26l2.26,2.26ZM222.1,762.25l2.26,2.26l2.26,-2.26l-2.26,-2.26l2.26,-2.26l-2.26,-2.26l-2.26,2.26l-2.26,-2.26l-2.26,2.26l2.26,2.26l-2.26,2.26l2.26,2.26ZM222.6,756.06l2.26,2.26l2.26,-2.26l-2.26,-2.26l2.26,-2.26l-2.26,-2.26l-2.26,2.26l-2.26,-2.26l-2.26,2.26l2.26,2.26l-2.26,2.26l2.26,2.26ZM225.4,760.03l2.26,2.26l2.26,-2.26l-2.26,-2.26l2.26,-2.26l-2.26,-2.26l-2.26,2.26l-2.26,-2.26l-2.26,2.26l2.26,2.26l-2.26,2.26l2.26,2.26ZM227.1,755.19l2.26,2.26l2.26,-2.26l-2.26,-2.26l2.26,-2.26l-2.26,-2.26l-2.26,2.26l-2.26,-2.26l-2.26,2.26l2.26,2.26l-2.26,2.26l2.26,2.26ZM227.7,759.09l2.26,2.26l2.26,-2.26l-2.26,-2.26l2.26,-2.26l-2.26,-2.26l-2.26,2.26l-2.26,-2.26l-2.26,2.26l2.26,2.26l-2.26,2.26l2.26,2.26ZM230.3,753.57l2.26,2.26l2.26,-2.26l-2.26,-2.26l2.26,-2.26l-2.26,-2.26l-2.26,2.26l-2.26,-2.26l-2.26,2.26l2.26,2.26l-2.26,2.26l2.26,2.26ZM231.1,757.06l2.26,2.26l2.26,-2.26l-2.26,-2.26l2.26,-2.26l-2.26,-2.26l-2.26,2.26l-2.26,-2.26l-2.26,2.26l2.26,2.26l-2.26,2.26l2.26,2.26ZM233.8,752.74l2.26,2.26l2.26,-2.26l-2.26,-2.26l2.26,-2.26l-2.26,-2.26l-2.26,2.26l-2.26,-2.26l-2.26,2.26l2.26,2.26l-2.26,2.26l2.26,2.26ZM234.5,754.17l2.26,2.26l2.26,-2.26l-2.26,-2.26l2.26,-2.26l-2.26,-2.26l-2.26,2.26l-2.26,-2.26l-2.26,2.26l2.26,2.26l-2.26,2.26l2.26,2.26ZM236.1,748.38l2.26,2.26l2.26,-2.26l-2.26,-2.26l2.26,-2.26l-2.26,-2.26l-2.26,2.26l-2.26,-2.26l-2.26,2.26l2.26,2.26l-2.26,2.26l2.26,2.26ZM238.6,751.33l2.26,2.26l2.26,-2.26l-2.26,-2.26l2.26,-2.26l-2.26,-2.26l-2.26,2.26l-2.26,-2.26l-2.26,2.26l2.26,2.26l-2.26,2.26l2.26,2.26ZM240.0,746.63l2.26,2.26l2.26,-2.26l-2.26,-2.26l2.26,-2.26l-2.26,-2.26l-2.26,2.26l-2.26,-2.26l-2.26,2.26l2.26,2.26l-2.26,2.26l2.26,2.26ZM241.2,749.66l2.26,2.26l2.26,-2.26l-2.26,-2.26l2.26,-2.26l-2.26,-2.26l-2.26,2.26l-2.26,-2.26l-2.26,2.26l2.26,2.26l-2.26,2.26l2.26,2.26ZM242.8,743.78l2.26,2.26l2.26,-2.26l-2.26,-2.26l2.26,-2.26l-2.26,-2.26l-2.26,2.26l-2.26,-2.26l-2.26,2.26l2.26,2.26l-2.26,2.26l2.26,2.26ZM244.4,745.59l2.26,2.26l2.26,-2.26l-2.26,-2.26l2.26,-2.26l-2.26,-2.26l-2.26,2.26l-2.26,-2.26l-2.26,2.26l2.26,2.26l-2.26,2.26l2.26,2.26ZM246.2,739.57l2.26,2.26l2.26,-2.26l-2.26,-2.26l2.26,-2.26l-2.26,-2.26l-2.26,2.26l-2.26,-2.26l-2.26,2.26l2.26,2.26l-2.26,2.26l2.26,2.26ZM248.8,743.19l2.26,2.26l2.26,-2.26l-2.26,-2.26l2.26,-2.26l-2.26,-2.26l-2.26,2.26l-2.26,-2.26l-2.26,2.26l2.26,2.26l-2.26,2.26l2.26,2.26ZM249.6,737.71l2.26,2.26l2.26,-2.26l-2.26,-2.26l2.26,-2.26l-2.26,-2.26l-2.26,2.26l-2.26,-2.26l-2.26,2.26l2.26,2.26l-2.26,2.26l2.26,2.26ZM251.2,738.86l2.26,2.26l2.26,-2.26l-2.26,-2.26l2.26,-2.26l-2.26,-2.26l-2.26,2.26l-2.26,-2.26l-2.26,2.26l2.26,2.26l-2.26,2.26l2.26,2.26ZM253.6,733.79l2.26,2.26l2.26,-2.26l-2.26,-2.26l2.26,-2.26l-2.26,-2.26l-2.26,2.26l-2.26,-2.26l-2.26,2.26l2.26,2.26l-2.26,2.26l2.26,2.26ZM254.4,736.95l2.26,2.26l2.26,-2.26l-2.26,-2.26l2.26,-2.26l-2.26,-2.26l-2.26,2.26l-2.26,-2.26l-2.26,2.26l2.26,2.26l-2.26,2.26l2.26,2.26ZM256.2,729.52l2.26,2.26l2.26,-2.26l-2.26,-2.26l2.26,-2.26l-2.26,-2.26l-2.26,2.26l-2.26,-2.26l-2.26,2.26l2.26,2.26l-2.26,2.26l2.26,2.26ZM258.6,732.02l2.26,2.26l2.26,-2.26l-2.26,-2.26l2.26,-2.26l-2.26,-2.26l-2.26,2.26l-2.26,-2.26l-2.26,2.26l2.26,2.26l-2.26,2.26l2.26,2.26ZM259.7,725.74l2.26,2.26l2.26,-2.26l-2.26,-2.26l2.26,-2.26l-2.26,-2.26l-2.26,2.26l-2.26,-2.26l-2.26,2.26l2.26,2.26l-2.26,2.26l2.26,2.26ZM260.8,727.46l2.26,2.26l2.26,-2.26l-2.26,-2.26l2.26,-2.26l-2.26,-2.26l-2.26,2.26l-2.26,-2.26l-2.26,2.26l2.26,2.26l-2.26,2.26l2.26,2.26ZM262.5,720.00l2.26,2.26l2.26,-2.26l-2.26,-2.26l2.26,-2.26l-2.26,-2.26l-2.26,2.26l-2.26,-2.26l-2.26,2.26l2.26,2.26l-2.26,2.26l2.26,2.26ZM264.0,720.15l2.26,2.26l2.26,-2.26l-2.26,-2.26l2.26,-2.26l-2.26,-2.26l-2.26,2.26l-2.26,-2.26l-2.26,2.26l2.26,2.26l-2.26,2.26l2.26,2.26ZM266.4,713.89l2.26,2.26l2.26,-2.26l-2.26,-2.26l2.26,-2.26l-2.26,-2.26l-2.26,2.26l-2.26,-2.26l-2.26,2.26l2.26,2.26l-2.26,2.26l2.26,2.26ZM267.6,716.48l2.26,2.26l2.26,-2.26l-2.26,-2.26l2.26,-2.26l-2.26,-2.26l-2.26,2.26l-2.26,-2.26l-2.26,2.26l2.26,2.26l-2.26,2.26l2.26,2.26ZM268.8,708.44l2.26,2.26l2.26,-2.26l-2.26,-2.26l2.26,-2.26l-2.26,-2.26l-2.26,2.26l-2.26,-2.26l-2.26,2.26l2.26,2.26l-2.26,2.26l2.26,2.26ZM271.3,711.70l2.26,2.26l2.26,-2.26l-2.26,-2.26l2.26,-2.26l-2.26,-2.26l-2.26,2.26l-2.26,-2.26l-2.26,2.26l2.26,2.26l-2.26,2.26l2.26,2.26ZM272.2,703.87l2.26,2.26l2.26,-2.26l-2.26,-2.26l2.26,-2.26l-2.26,-2.26l-2.26,2.26l-2.26,-2.26l-2.26,2.26l2.26,2.26l-2.26,2.26l2.26,2.26ZM274.4,707.34l2.26,2.26l2.26,-2.26l-2.26,-2.26l2.26,-2.26l-2.26,-2.26l-2.26,2.26l-2.26,-2.26l-2.26,2.26l2.26,2.26l-2.26,2.26l2.26,2.26ZM275.5,701.03l2.26,2.26l2.26,-2.26l-2.26,-2.26l2.26,-2.26l-2.26,-2.26l-2.26,2.26l-2.26,-2.26l-2.26,2.26l2.26,2.26l-2.26,2.26l2.26,2.26ZM277.9,701.87l2.26,2.26l2.26,-2.26l-2.26,-2.26l2.26,-2.26l-2.26,-2.26l-2.26,2.26l-2.26,-2.26l-2.26,2.26l2.26,2.26l-2.26,2.26l2.26,2.26ZM279.0,694.34l2.26,2.26l2.26,-2.26l-2.26,-2.26l2.26,-2.26l-2.26,-2.26l-2.26,2.26l-2.26,-2.26l-2.26,2.26l2.26,2.26l-2.26,2.26l2.26,2.26ZM280.2,698.07l2.26,2.26l2.26,-2.26l-2.26,-2.26l2.26,-2.26l-2.26,-2.26l-2.26,2.26l-2.26,-2.26l-2.26,2.26l2.26,2.26l-2.26,2.26l2.26,2.26ZM282.2,691.37l2.26,2.26l2.26,-2.26l-2.26,-2.26l2.26,-2.26l-2.26,-2.26l-2.26,2.26l-2.26,-2.26l-2.26,2.26l2.26,2.26l-2.26,2.26l2.26,2.26ZM283.8,693.58l2.26,2.26l2.26,-2.26l-2.26,-2.26l2.26,-2.26l-2.26,-2.26l-2.26,2.26l-2.26,-2.26l-2.26,2.26l2.26,2.26l-2.26,2.26l2.26,2.26ZM285.9,686.22l2.26,2.26l2.26,-2.26l-2.26,-2.26l2.26,-2.26l-2.26,-2.26l-2.26,2.26l-2.26,-2.26l-2.26,2.26l2.26,2.26l-2.26,2.26l2.26,2.26ZM287.1,689.17l2.26,2.26l2.26,-2.26l-2.26,-2.26l2.26,-2.26l-2.26,-2.26l-2.26,2.26l-2.26,-2.26l-2.26,2.26l2.26,2.26l-2.26,2.26l2.26,2.26ZM288.6,681.91l2.26,2.26l2.26,-2.26l-2.26,-2.26l2.26,-2.26l-2.26,-2.26l-2.26,2.26l-2.26,-2.26l-2.26,2.26l2.26,2.26l-2.26,2.26l2.26,2.26ZM290.9,685.33l2.26,2.26l2.26,-2.26l-2.26,-2.26l2.26,-2.26l-2.26,-2.26l-2.26,2.26l-2.26,-2.26l-2.26,2.26l2.26,2.26l-2.26,2.26l2.26,2.26ZM292.6,677.87l2.26,2.26l2.26,-2.26l-2.26,-2.26l2.26,-2.26l-2.26,-2.26l-2.26,2.26l-2.26,-2.26l-2.26,2.26l2.26,2.26l-2.26,2.26l2.26,2.26ZM294.7,679.61l2.26,2.26l2.26,-2.26l-2.26,-2.26l2.26,-2.26l-2.26,-2.26l-2.26,2.26l-2.26,-2.26l-2.26,2.26l2.26,2.26l-2.26,2.26l2.26,2.26ZM295.2,673.69l2.26,2.26l2.26,-2.26l-2.26,-2.26l2.26,-2.26l-2.26,-2.26l-2.26,2.26l-2.26,-2.26l-2.26,2.26l2.26,2.26l-2.26,2.26l2.26,2.26ZM297.4,675.11l2.26,2.26l2.26,-2.26l-2.26,-2.26l2.26,-2.26l-2.26,-2.26l-2.26,2.26l-2.26,-2.26l-2.26,2.26l2.26,2.26l-2.26,2.26l2.26,2.26ZM298.8,669.56l2.26,2.26l2.26,-2.26l-2.26,-2.26l2.26,-2.26l-2.26,-2.26l-2.26,2.26l-2.26,-2.26l-2.26,2.26l2.26,2.26l-2.26,2.26l2.26,2.26ZM300.9,670.70l2.26,2.26l2.26,-2.26l-2.26,-2.26l2.26,-2.26l-2.26,-2.26l-2.26,2.26l-2.26,-2.26l-2.26,2.26l2.26,2.26l-2.26,2.26l2.26,2.26ZM302.3,666.23l2.26,2.26l2.26,-2.26l-2.26,-2.26l2.26,-2.26l-2.26,-2.26l-2.26,2.26l-2.26,-2.26l-2.26,2.26l2.26,2.26l-2.26,2.26l2.26,2.26ZM304.7,667.38l2.26,2.26l2.26,-2.26l-2.26,-2.26l2.26,-2.26l-2.26,-2.26l-2.26,2.26l-2.26,-2.26l-2.26,2.26l2.26,2.26l-2.26,2.26l2.26,2.26ZM306.0,660.91l2.26,2.26l2.26,-2.26l-2.26,-2.26l2.26,-2.26l-2.26,-2.26l-2.26,2.26l-2.26,-2.26l-2.26,2.26l2.26,2.26l-2.26,2.26l2.26,2.26ZM307.0,661.30l2.26,2.26l2.26,-2.26l-2.26,-2.26l2.26,-2.26l-2.26,-2.26l-2.26,2.26l-2.26,-2.26l-2.26,2.26l2.26,2.26l-2.26,2.26l2.26,2.26ZM308.5,657.11l2.26,2.26l2.26,-2.26l-2.26,-2.26l2.26,-2.26l-2.26,-2.26l-2.26,2.26l-2.26,-2.26l-2.26,2.26l2.26,2.26l-2.26,2.26l2.26,2.26ZM311.0,658.95l2.26,2.26l2.26,-2.26l-2.26,-2.26l2.26,-2.26l-2.26,-2.26l-2.26,2.26l-2.26,-2.26l-2.26,2.26l2.26,2.26l-2.26,2.26l2.26,2.26ZM311.9,651.88l2.26,2.26l2.26,-2.26l-2.26,-2.26l2.26,-2.26l-2.26,-2.26l-2.26,2.26l-2.26,-2.26l-2.26,2.26l2.26,2.26l-2.26,2.26l2.26,2.26ZM314.1,653.81l2.26,2.26l2.26,-2.26l-2.26,-2.26l2.26,-2.26l-2.26,-2.26l-2.26,2.26l-2.26,-2.26l-2.26,2.26l2.26,2.26l-2.26,2.26l2.26,2.26ZM315.6,649.21l2.26,2.26l2.26,-2.26l-2.26,-2.26l2.26,-2.26l-2.26,-2.26l-2.26,2.26l-2.26,-2.26l-2.26,2.26l2.26,2.26l-2.26,2.26l2.26,2.26ZM316.9,650.87l2.26,2.26l2.26,-2.26l-2.26,-2.26l2.26,-2.26l-2.26,-2.26l-2.26,2.26l-2.26,-2.26l-2.26,2.26l2.26,2.26l-2.26,2.26l2.26,2.26ZM319.4,646.47l2.26,2.26l2.26,-2.26l-2.26,-2.26l2.26,-2.26l-2.26,-2.26l-2.26,2.26l-2.26,-2.26l-2.26,2.26l2.26,2.26l-2.26,2.26l2.26,2.26ZM321.1,648.75l2.26,2.26l2.26,-2.26l-2.26,-2.26l2.26,-2.26l-2.26,-2.26l-2.26,2.26l-2.26,-2.26l-2.26,2.26l2.26,2.26l-2.26,2.26l2.26,2.26ZM322.8,644.01l2.26,2.26l2.26,-2.26l-2.26,-2.26l2.26,-2.26l-2.26,-2.26l-2.26,2.26l-2.26,-2.26l-2.26,2.26l2.26,2.26l-2.26,2.26l2.26,2.26ZM323.9,646.20l2.26,2.26l2.26,-2.26l-2.26,-2.26l2.26,-2.26l-2.26,-2.26l-2.26,2.26l-2.26,-2.26l-2.26,2.26l2.26,2.26l-2.26,2.26l2.26,2.26ZM326.3,641.40l2.26,2.26l2.26,-2.26l-2.26,-2.26l2.26,-2.26l-2.26,-2.26l-2.26,2.26l-2.26,-2.26l-2.26,2.26l2.26,2.26l-2.26,2.26l2.26,2.26ZM327.4,643.96l2.26,2.26l2.26,-2.26l-2.26,-2.26l2.26,-2.26l-2.26,-2.26l-2.26,2.26l-2.26,-2.26l-2.26,2.26l2.26,2.26l-2.26,2.26l2.26,2.26ZM329.6,638.18l2.26,2.26l2.26,-2.26l-2.26,-2.26l2.26,-2.26l-2.26,-2.26l-2.26,2.26l-2.26,-2.26l-2.26,2.26l2.26,2.26l-2.26,2.26l2.26,2.26ZM330.9,640.48l2.26,2.26l2.26,-2.26l-2.26,-2.26l2.26,-2.26l-2.26,-2.26l-2.26,2.26l-2.26,-2.26l-2.26,2.26l2.26,2.26l-2.26,2.26l2.26,2.26ZM332.6,635.36l2.26,2.26l2.26,-2.26l-2.26,-2.26l2.26,-2.26l-2.26,-2.26l-2.26,2.26l-2.26,-2.26l-2.26,2.26l2.26,2.26l-2.26,2.26l2.26,2.26ZM333.6,637.77l2.26,2.26l2.26,-2.26l-2.26,-2.26l2.26,-2.26l-2.26,-2.26l-2.26,2.26l-2.26,-2.26l-2.26,2.26l2.26,2.26l-2.26,2.26l2.26,2.26ZM336.4,632.69l2.26,2.26l2.26,-2.26l-2.26,-2.26l2.26,-2.26l-2.26,-2.26l-2.26,2.26l-2.26,-2.26l-2.26,2.26l2.26,2.26l-2.26,2.26l2.26,2.26ZM337.7,633.85l2.26,2.26l2.26,-2.26l-2.26,-2.26l2.26,-2.26l-2.26,-2.26l-2.26,2.26l-2.26,-2.26l-2.26,2.26l2.26,2.26l-2.26,2.26l2.26,2.26ZM339.4,628.65l2.26,2.26l2.26,-2.26l-2.26,-2.26l2.26,-2.26l-2.26,-2.26l-2.26,2.26l-2.26,-2.26l-2.26,2.26l2.26,2.26l-2.26,2.26l2.26,2.26ZM340.7,631.61l2.26,2.26l2.26,-2.26l-2.26,-2.26l2.26,-2.26l-2.26,-2.26l-2.26,2.26l-2.26,-2.26l-2.26,2.26l2.26,2.26l-2.26,2.26l2.26,2.26ZM341.9,625.74l2.26,2.26l2.26,-2.26l-2.26,-2.26l2.26,-2.26l-2.26,-2.26l-2.26,2.26l-2.26,-2.26l-2.26,2.26l2.26,2.26l-2.26,2.26l2.26,2.26ZM343.5,627.72l2.26,2.26l2.26,-2.26l-2.26,-2.26l2.26,-2.26l-2.26,-2.26l-2.26,2.26l-2.26,-2.26l-2.26,2.26l2.26,2.26l-2.26,2.26l2.26,2.26ZM345.7,621.17l2.26,2.26l2.26,-2.26l-2.26,-2.26l2.26,-2.26l-2.26,-2.26l-2.26,2.26l-2.26,-2.26l-2.26,2.26l2.26,2.26l-2.26,2.26l2.26,2.26ZM347.6,624.15l2.26,2.26l2.26,-2.26l-2.26,-2.26l2.26,-2.26l-2.26,-2.26l-2.26,2.26l-2.26,-2.26l-2.26,2.26l2.26,2.26l-2.26,2.26l2.26,2.26ZM349.2,620.13l2.26,2.26l2.26,-2.26l-2.26,-2.26l2.26,-2.26l-2.26,-2.26l-2.26,2.26l-2.26,-2.26l-2.26,2.26l2.26,2.26l-2.26,2.26l2.26,2.26ZM350.4,620.91l2.26,2.26l2.26,-2.26l-2.26,-2.26l2.26,-2.26l-2.26,-2.26l-2.26,2.26l-2.26,-2.26l-2.26,2.26l2.26,2.26l-2.26,2.26l2.26,2.26ZM352.2,617.47l2.26,2.26l2.26,-2.26l-2.26,-2.26l2.26,-2.26l-2.26,-2.26l-2.26,2.26l-2.26,-2.26l-2.26,2.26l2.26,2.26l-2.26,2.26l2.26,2.26ZM353.7,619.21l2.26,2.26l2.26,-2.26l-2.26,-2.26l2.26,-2.26l-2.26,-2.26l-2.26,2.26l-2.26,-2.26l-2.26,2.26l2.26,2.26l-2.26,2.26l2.26,2.26ZM356.2,615.34l2.26,2.26l2.26,-2.26l-2.26,-2.26l2.26,-2.26l-2.26,-2.26l-2.26,2.26l-2.26,-2.26l-2.26,2.26l2.26,2.26l-2.26,2.26l2.26,2.26ZM357.4,618.86l2.26,2.26l2.26,-2.26l-2.26,-2.26l2.26,-2.26l-2.26,-2.26l-2.26,2.26l-2.26,-2.26l-2.26,2.26l2.26,2.26l-2.26,2.26l2.26,2.26ZM358.9,613.28l2.26,2.26l2.26,-2.26l-2.26,-2.26l2.26,-2.26l-2.26,-2.26l-2.26,2.26l-2.26,-2.26l-2.26,2.26l2.26,2.26l-2.26,2.26l2.26,2.26ZM360.4,615.67l2.26,2.26l2.26,-2.26l-2.26,-2.26l2.26,-2.26l-2.26,-2.26l-2.26,2.26l-2.26,-2.26l-2.26,2.26l2.26,2.26l-2.26,2.26l2.26,2.26ZM362.8,611.79l2.26,2.26l2.26,-2.26l-2.26,-2.26l2.26,-2.26l-2.26,-2.26l-2.26,2.26l-2.26,-2.26l-2.26,2.26l2.26,2.26l-2.26,2.26l2.26,2.26ZM364.6,613.48l2.26,2.26l2.26,-2.26l-2.26,-2.26l2.26,-2.26l-2.26,-2.26l-2.26,2.26l-2.26,-2.26l-2.26,2.26l2.26,2.26l-2.26,2.26l2.26,2.26ZM365.9,608.07l2.26,2.26l2.26,-2.26l-2.26,-2.26l2.26,-2.26l-2.26,-2.26l-2.26,2.26l-2.26,-2.26l-2.26,2.26l2.26,2.26l-2.26,2.26l2.26,2.26ZM367.0,611.25l2.26,2.26l2.26,-2.26l-2.26,-2.26l2.26,-2.26l-2.26,-2.26l-2.26,2.26l-2.26,-2.26l-2.26,2.26l2.26,2.26l-2.26,2.26l2.26,2.26ZM369.5,606.85l2.26,2.26l2.26,-2.26l-2.26,-2.26l2.26,-2.26l-2.26,-2.26l-2.26,2.26l-2.26,-2.26l-2.26,2.26l2.26,2.26l-2.26,2.26l2.26,2.26ZM371.0,609.84l2.26,2.26l2.26,-2.26l-2.26,-2.26l2.26,-2.26l-2.26,-2.26l-2.26,2.26l-2.26,-2.26l-2.26,2.26l2.26,2.26l-2.26,2.26l2.26,2.26ZM372.1,602.72l2.26,2.26l2.26,-2.26l-2.26,-2.26l2.26,-2.26l-2.26,-2.26l-2.26,2.26l-2.26,-2.26l-2.26,2.26l2.26,2.26l-2.26,2.26l2.26,2.26ZM374.0,605.72l2.26,2.26l2.26,-2.26l-2.26,-2.26l2.26,-2.26l-2.26,-2.26l-2.26,2.26l-2.26,-2.26l-2.26,2.26l2.26,2.26l-2.26,2.26l2.26,2.26ZM375.4,600.80l2.26,2.26l2.26,-2.26l-2.26,-2.26l2.26,-2.26l-2.26,-2.26l-2.26,2.26l-2.26,-2.26l-2.26,2.26l2.26,2.26l-2.26,2.26l2.26,2.26ZM377.5,603.75l2.26,2.26l2.26,-2.26l-2.26,-2.26l2.26,-2.26l-2.26,-2.26l-2.26,2.26l-2.26,-2.26l-2.26,2.26l2.26,2.26l-2.26,2.26l2.26,2.26ZM378.8,599.32l2.26,2.26l2.26,-2.26l-2.26,-2.26l2.26,-2.26l-2.26,-2.26l-2.26,2.26l-2.26,-2.26l-2.26,2.26l2.26,2.26l-2.26,2.26l2.26,2.26ZM381.3,601.15l2.26,2.26l2.26,-2.26l-2.26,-2.26l2.26,-2.26l-2.26,-2.26l-2.26,2.26l-2.26,-2.26l-2.26,2.26l2.26,2.26l-2.26,2.26l2.26,2.26ZM381.8,594.84l2.26,2.26l2.26,-2.26l-2.26,-2.26l2.26,-2.26l-2.26,-2.26l-2.26,2.26l-2.26,-2.26l-2.26,2.26l2.26,2.26l-2.26,2.26l2.26,2.26ZM384.3,597.56l2.26,2.26l2.26,-2.26l-2.26,-2.26l2.26,-2.26l-2.26,-2.26l-2.26,2.26l-2.26,-2.26l-2.26,2.26l2.26,2.26l-2.26,2.26l2.26,2.26ZM385.6,593.53l2.26,2.26l2.26,-2.26l-2.26,-2.26l2.26,-2.26l-2.26,-2.26l-2.26,2.26l-2.26,-2.26l-2.26,2.26l2.26,2.26l-2.26,2.26l2.26,2.26ZM386.7,596.76l2.26,2.26l2.26,-2.26l-2.26,-2.26l2.26,-2.26l-2.26,-2.26l-2.26,2.26l-2.26,-2.26l-2.26,2.26l2.26,2.26l-2.26,2.26l2.26,2.26ZM387.9,589.89l2.26,2.26l2.26,-2.26l-2.26,-2.26l2.26,-2.26l-2.26,-2.26l-2.26,2.26l-2.26,-2.26l-2.26,2.26l2.26,2.26l-2.26,2.26l2.26,2.26ZM390.0,592.32l2.26,2.26l2.26,-2.26l-2.26,-2.26l2.26,-2.26l-2.26,-2.26l-2.26,2.26l-2.26,-2.26l-2.26,2.26l2.26,2.26l-2.26,2.26l2.26,2.26ZM392.0,587.53l2.26,2.26l2.26,-2.26l-2.26,-2.26l2.26,-2.26l-2.26,-2.26l-2.26,2.26l-2.26,-2.26l-2.26,2.26l2.26,2.26l-2.26,2.26l2.26,2.26ZM392.8,589.77l2.26,2.26l2.26,-2.26l-2.26,-2.26l2.26,-2.26l-2.26,-2.26l-2.26,2.26l-2.26,-2.26l-2.26,2.26l2.26,2.26l-2.26,2.26l2.26,2.26ZM394.9,585.17l2.26,2.26l2.26,-2.26l-2.26,-2.26l2.26,-2.26l-2.26,-2.26l-2.26,2.26l-2.26,-2.26l-2.26,2.26l2.26,2.26l-2.26,2.26l2.26,2.26ZM396.5,588.11l2.26,2.26l2.26,-2.26l-2.26,-2.26l2.26,-2.26l-2.26,-2.26l-2.26,2.26l-2.26,-2.26l-2.26,2.26l2.26,2.26l-2.26,2.26l2.26,2.26ZM398.3,583.27l2.26,2.26l2.26,-2.26l-2.26,-2.26l2.26,-2.26l-2.26,-2.26l-2.26,2.26l-2.26,-2.26l-2.26,2.26l2.26,2.26l-2.26,2.26l2.26,2.26ZM399.7,583.89l2.26,2.26l2.26,-2.26l-2.26,-2.26l2.26,-2.26l-2.26,-2.26l-2.26,2.26l-2.26,-2.26l-2.26,2.26l2.26,2.26l-2.26,2.26l2.26,2.26ZM401.0,578.28l2.26,2.26l2.26,-2.26l-2.26,-2.26l2.26,-2.26l-2.26,-2.26l-2.26,2.26l-2.26,-2.26l-2.26,2.26l2.26,2.26l-2.26,2.26l2.26,2.26ZM402.0,581.42l2.26,2.26l2.26,-2.26l-2.26,-2.26l2.26,-2.26l-2.26,-2.26l-2.26,2.26l-2.26,-2.26l-2.26,2.26l2.26,2.26l-2.26,2.26l2.26,2.26ZM404.4,575.15l2.26,2.26l2.26,-2.26l-2.26,-2.26l2.26,-2.26l-2.26,-2.26l-2.26,2.26l-2.26,-2.26l-2.26,2.26l2.26,2.26l-2.26,2.26l2.26,2.26ZM405.4,577.99l2.26,2.26l2.26,-2.26l-2.26,-2.26l2.26,-2.26l-2.26,-2.26l-2.26,2.26l-2.26,-2.26l-2.26,2.26l2.26,2.26l-2.26,2.26l2.26,2.26ZM407.5,572.07l2.26,2.26l2.26,-2.26l-2.26,-2.26l2.26,-2.26l-2.26,-2.26l-2.26,2.26l-2.26,-2.26l-2.26,2.26l2.26,2.26l-2.26,2.26l2.26,2.26ZM409.0,574.30l2.26,2.26l2.26,-2.26l-2.26,-2.26l2.26,-2.26l-2.26,-2.26l-2.26,2.26l-2.26,-2.26l-2.26,2.26l2.26,2.26l-2.26,2.26l2.26,2.26ZM410.3,568.05l2.26,2.26l2.26,-2.26l-2.26,-2.26l2.26,-2.26l-2.26,-2.26l-2.26,2.26l-2.26,-2.26l-2.26,2.26l2.26,2.26l-2.26,2.26l2.26,2.26ZM412.4,568.02l2.26,2.26l2.26,-2.26l-2.26,-2.26l2.26,-2.26l-2.26,-2.26l-2.26,2.26l-2.26,-2.26l-2.26,2.26l2.26,2.26l-2.26,2.26l2.26,2.26ZM414.0,563.21l2.26,2.26l2.26,-2.26l-2.26,-2.26l2.26,-2.26l-2.26,-2.26l-2.26,2.26l-2.26,-2.26l-2.26,2.26l2.26,2.26l-2.26,2.26l2.26,2.26ZM414.6,564.22l2.26,2.26l2.26,-2.26l-2.26,-2.26l2.26,-2.26l-2.26,-2.26l-2.26,2.26l-2.26,-2.26l-2.26,2.26l2.26,2.26l-2.26,2.26l2.26,2.26ZM416.8,558.98l2.26,2.26l2.26,-2.26l-2.26,-2.26l2.26,-2.26l-2.26,-2.26l-2.26,2.26l-2.26,-2.26l-2.26,2.26l2.26,2.26l-2.26,2.26l2.26,2.26ZM418.1,559.83l2.26,2.26l2.26,-2.26l-2.26,-2.26l2.26,-2.26l-2.26,-2.26l-2.26,2.26l-2.26,-2.26l-2.26,2.26l2.26,2.26l-2.26,2.26l2.26,2.26ZM420.4,554.29l2.26,2.26l2.26,-2.26l-2.26,-2.26l2.26,-2.26l-2.26,-2.26l-2.26,2.26l-2.26,-2.26l-2.26,2.26l2.26,2.26l-2.26,2.26l2.26,2.26ZM422.2,555.41l2.26,2.26l2.26,-2.26l-2.26,-2.26l2.26,-2.26l-2.26,-2.26l-2.26,2.26l-2.26,-2.26l-2.26,2.26l2.26,2.26l-2.26,2.26l2.26,2.26ZM423.6,548.70l2.26,2.26l2.26,-2.26l-2.26,-2.26l2.26,-2.26l-2.26,-2.26l-2.26,2.26l-2.26,-2.26l-2.26,2.26l2.26,2.26l-2.26,2.26l2.26,2.26ZM425.4,552.09l2.26,2.26l2.26,-2.26l-2.26,-2.26l2.26,-2.26l-2.26,-2.26l-2.26,2.26l-2.26,-2.26l-2.26,2.26l2.26,2.26l-2.26,2.26l2.26,2.26ZM427.0,545.77l2.26,2.26l2.26,-2.26l-2.26,-2.26l2.26,-2.26l-2.26,-2.26l-2.26,2.26l-2.26,-2.26l-2.26,2.26l2.26,2.26l-2.26,2.26l2.26,2.26ZM428.3,548.12l2.26,2.26l2.26,-2.26l-2.26,-2.26l2.26,-2.26l-2.26,-2.26l-2.26,2.26l-2.26,-2.26l-2.26,2.26l2.26,2.26l-2.26,2.26l2.26,2.26ZM430.7,543.78l2.26,2.26l2.26,-2.26l-2.26,-2.26l2.26,-2.26l-2.26,-2.26l-2.26,2.26l-2.26,-2.26l-2.26,2.26l2.26,2.26l-2.26,2.26l2.26,2.26ZM431.7,546.81l2.26,2.26l2.26,-2.26l-2.26,-2.26l2.26,-2.26l-2.26,-2.26l-2.26,2.26l-2.26,-2.26l-2.26,2.26l2.26,2.26l-2.26,2.26l2.26,2.26ZM433.0,542.57l2.26,2.26l2.26,-2.26l-2.26,-2.26l2.26,-2.26l-2.26,-2.26l-2.26,2.26l-2.26,-2.26l-2.26,2.26l2.26,2.26l-2.26,2.26l2.26,2.26ZM435.2,544.70l2.26,2.26l2.26,-2.26l-2.26,-2.26l2.26,-2.26l-2.26,-2.26l-2.26,2.26l-2.26,-2.26l-2.26,2.26l2.26,2.26l-2.26,2.26l2.26,2.26ZM435.9,541.97l2.26,2.26l2.26,-2.26l-2.26,-2.26l2.26,-2.26l-2.26,-2.26l-2.26,2.26l-2.26,-2.26l-2.26,2.26l2.26,2.26l-2.26,2.26l2.26,2.26ZM438.0,547.80l2.26,2.26l2.26,-2.26l-2.26,-2.26l2.26,-2.26l-2.26,-2.26l-2.26,2.26l-2.26,-2.26l-2.26,2.26l2.26,2.26l-2.26,2.26l2.26,2.26ZM439.5,543.08l2.26,2.26l2.26,-2.26l-2.26,-2.26l2.26,-2.26l-2.26,-2.26l-2.26,2.26l-2.26,-2.26l-2.26,2.26l2.26,2.26l-2.26,2.26l2.26,2.26ZM441.1,547.26l2.26,2.26l2.26,-2.26l-2.26,-2.26l2.26,-2.26l-2.26,-2.26l-2.26,2.26l-2.26,-2.26l-2.26,2.26l2.26,2.26l-2.26,2.26l2.26,2.26ZM519.2,553.21l2.26,2.26l2.26,-2.26l-2.26,-2.26l2.26,-2.26l-2.26,-2.26l-2.26,2.26l-2.26,-2.26l-2.26,2.26l2.26,2.26l-2.26,2.26l2.26,2.26ZM520.5,543.72l2.26,2.26l2.26,-2.26l-2.26,-2.26l2.26,-2.26l-2.26,-2.26l-2.26,2.26l-2.26,-2.26l-2.26,2.26l2.26,2.26l-2.26,2.26l2.26,2.26ZM521.3,543.45l2.26,2.26l2.26,-2.26l-2.26,-2.26l2.26,-2.26l-2.26,-2.26l-2.26,2.26l-2.26,-2.26l-2.26,2.26l2.26,2.26l-2.26,2.26l2.26,2.26ZM522.6,533.07l2.26,2.26l2.26,-2.26l-2.26,-2.26l2.26,-2.26l-2.26,-2.26l-2.26,2.26l-2.26,-2.26l-2.26,2.26l2.26,2.26l-2.26,2.26l2.26,2.26ZM524.6,533.60l2.26,2.26l2.26,-2.26l-2.26,-2.26l2.26,-2.26l-2.26,-2.26l-2.26,2.26l-2.26,-2.26l-2.26,2.26l2.26,2.26l-2.26,2.26l2.26,2.26ZM526.5,526.98l2.26,2.26l2.26,-2.26l-2.26,-2.26l2.26,-2.26l-2.26,-2.26l-2.26,2.26l-2.26,-2.26l-2.26,2.26l2.26,2.26l-2.26,2.26l2.26,2.26ZM528.2,527.98l2.26,2.26l2.26,-2.26l-2.26,-2.26l2.26,-2.26l-2.26,-2.26l-2.26,2.26l-2.26,-2.26l-2.26,2.26l2.26,2.26l-2.26,2.26l2.26,2.26ZM529.7,520.47l2.26,2.26l2.26,-2.26l-2.26,-2.26l2.26,-2.26l-2.26,-2.26l-2.26,2.26l-2.26,-2.26l-2.26,2.26l2.26,2.26l-2.26,2.26l2.26,2.26ZM530.5,528.06l2.26,2.26l2.26,-2.26l-2.26,-2.26l2.26,-2.26l-2.26,-2.26l-2.26,2.26l-2.26,-2.26l-2.26,2.26l2.26,2.26l-2.26,2.26l2.26,2.26ZM532.3,527.08l2.26,2.26l2.26,-2.26l-2.26,-2.26l2.26,-2.26l-2.26,-2.26l-2.26,2.26l-2.26,-2.26l-2.26,2.26l2.26,2.26l-2.26,2.26l2.26,2.26ZM534.4,533.11l2.26,2.26l2.26,-2.26l-2.26,-2.26l2.26,-2.26l-2.26,-2.26l-2.26,2.26l-2.26,-2.26l-2.26,2.26l2.26,2.26l-2.26,2.26l2.26,2.26ZM536.2,530.74l2.26,2.26l2.26,-2.26l-2.26,-2.26l2.26,-2.26l-2.26,-2.26l-2.26,2.26l-2.26,-2.26l-2.26,2.26l2.26,2.26l-2.26,2.26l2.26,2.26ZM537.1,535.85l2.26,2.26l2.26,-2.26l-2.26,-2.26l2.26,-2.26l-2.26,-2.26l-2.26,2.26l-2.26,-2.26l-2.26,2.26l2.26,2.26l-2.26,2.26l2.26,2.26ZM539.2,534.64l2.26,2.26l2.26,-2.26l-2.26,-2.26l2.26,-2.26l-2.26,-2.26l-2.26,2.26l-2.26,-2.26l-2.26,2.26l2.26,2.26l-2.26,2.26l2.26,2.26ZM540.0,540.06l2.26,2.26l2.26,-2.26l-2.26,-2.26l2.26,-2.26l-2.26,-2.26l-2.26,2.26l-2.26,-2.26l-2.26,2.26l2.26,2.26l-2.26,2.26l2.26,2.26ZM542.5,536.82l2.26,2.26l2.26,-2.26l-2.26,-2.26l2.26,-2.26l-2.26,-2.26l-2.26,2.26l-2.26,-2.26l-2.26,2.26l2.26,2.26l-2.26,2.26l2.26,2.26ZM543.5,541.58l2.26,2.26l2.26,-2.26l-2.26,-2.26l2.26,-2.26l-2.26,-2.26l-2.26,2.26l-2.26,-2.26l-2.26,2.26l2.26,2.26l-2.26,2.26l2.26,2.26ZM545.0,539.85l2.26,2.26l2.26,-2.26l-2.26,-2.26l2.26,-2.26l-2.26,-2.26l-2.26,2.26l-2.26,-2.26l-2.26,2.26l2.26,2.26l-2.26,2.26l2.26,2.26ZM546.6,544.25l2.26,2.26l2.26,-2.26l-2.26,-2.26l2.26,-2.26l-2.26,-2.26l-2.26,2.26l-2.26,-2.26l-2.26,2.26l2.26,2.26l-2.26,2.26l2.26,2.26ZM548.6,542.96l2.26,2.26l2.26,-2.26l-2.26,-2.26l2.26,-2.26l-2.26,-2.26l-2.26,2.26l-2.26,-2.26l-2.26,2.26l2.26,2.26l-2.26,2.26l2.26,2.26ZM549.5,549.18l2.26,2.26l2.26,-2.26l-2.26,-2.26l2.26,-2.26l-2.26,-2.26l-2.26,2.26l-2.26,-2.26l-2.26,2.26l2.26,2.26l-2.26,2.26l2.26,2.26ZM551.1,546.36l2.26,2.26l2.26,-2.26l-2.26,-2.26l2.26,-2.26l-2.26,-2.26l-2.26,2.26l-2.26,-2.26l-2.26,2.26l2.26,2.26l-2.26,2.26l2.26,2.26ZM552.7,551.27l2.26,2.26l2.26,-2.26l-2.26,-2.26l2.26,-2.26l-2.26,-2.26l-2.26,2.26l-2.26,-2.26l-2.26,2.26l2.26,2.26l-2.26,2.26l2.26,2.26ZM554.0,550.03l2.26,2.26l2.26,-2.26l-2.26,-2.26l2.26,-2.26l-2.26,-2.26l-2.26,2.26l-2.26,-2.26l-2.26,2.26l2.26,2.26l-2.26,2.26l2.26,2.26ZM555.9,557.18l2.26,2.26l2.26,-2.26l-2.26,-2.26l2.26,-2.26l-2.26,-2.26l-2.26,2.26l-2.26,-2.26l-2.26,2.26l2.26,2.26l-2.26,2.26l2.26,2.26ZM556.8,554.96l2.26,2.26l2.26,-2.26l-2.26,-2.26l2.26,-2.26l-2.26,-2.26l-2.26,2.26l-2.26,-2.26l-2.26,2.26l2.26,2.26l-2.26,2.26l2.26,2.26ZM558.4,561.73l2.26,2.26l2.26,-2.26l-2.26,-2.26l2.26,-2.26l-2.26,-2.26l-2.26,2.26l-2.26,-2.26l-2.26,2.26l2.26,2.26l-2.26,2.26l2.26,2.26ZM560.9,561.72l2.26,2.26l2.26,-2.26l-2.26,-2.26l2.26,-2.26l-2.26,-2.26l-2.26,2.26l-2.26,-2.26l-2.26,2.26l2.26,2.26l-2.26,2.26l2.26,2.26ZM562.1,565.99l2.26,2.26l2.26,-2.26l-2.26,-2.26l2.26,-2.26l-2.26,-2.26l-2.26,2.26l-2.26,-2.26l-2.26,2.26l2.26,2.26l-2.26,2.26l2.26,2.26ZM563.5,564.39l2.26,2.26l2.26,-2.26l-2.26,-2.26l2.26,-2.26l-2.26,-2.26l-2.26,2.26l-2.26,-2.26l-2.26,2.26l2.26,2.26l-2.26,2.26l2.26,2.26ZM566.0,568.88l2.26,2.26l2.26,-2.26l-2.26,-2.26l2.26,-2.26l-2.26,-2.26l-2.26,2.26l-2.26,-2.26l-2.26,2.26l2.26,2.26l-2.26,2.26l2.26,2.26ZM567.5,566.30l2.26,2.26l2.26,-2.26l-2.26,-2.26l2.26,-2.26l-2.26,-2.26l-2.26,2.26l-2.26,-2.26l-2.26,2.26l2.26,2.26l-2.26,2.26l2.26,2.26ZM568.5,572.46l2.26,2.26l2.26,-2.26l-2.26,-2.26l2.26,-2.26l-2.26,-2.26l-2.26,2.26l-2.26,-2.26l-2.26,2.26l2.26,2.26l-2.26,2.26l2.26,2.26ZM570.8,570.36l2.26,2.26l2.26,-2.26l-2.26,-2.26l2.26,-2.26l-2.26,-2.26l-2.26,2.26l-2.26,-2.26l-2.26,2.26l2.26,2.26l-2.26,2.26l2.26,2.26ZM572.0,576.75l2.26,2.26l2.26,-2.26l-2.26,-2.26l2.26,-2.26l-2.26,-2.26l-2.26,2.26l-2.26,-2.26l-2.26,2.26l2.26,2.26l-2.26,2.26l2.26,2.26ZM573.4,575.53l2.26,2.26l2.26,-2.26l-2.26,-2.26l2.26,-2.26l-2.26,-2.26l-2.26,2.26l-2.26,-2.26l-2.26,2.26l2.26,2.26l-2.26,2.26l2.26,2.26ZM575.1,581.51l2.26,2.26l2.26,-2.26l-2.26,-2.26l2.26,-2.26l-2.26,-2.26l-2.26,2.26l-2.26,-2.26l-2.26,2.26l2.26,2.26l-2.26,2.26l2.26,2.26ZM577.0,579.28l2.26,2.26l2.26,-2.26l-2.26,-2.26l2.26,-2.26l-2.26,-2.26l-2.26,2.26l-2.26,-2.26l-2.26,2.26l2.26,2.26l-2.26,2.26l2.26,2.26ZM579.0,586.37l2.26,2.26l2.26,-2.26l-2.26,-2.26l2.26,-2.26l-2.26,-2.26l-2.26,2.26l-2.26,-2.26l-2.26,2.26l2.26,2.26l-2.26,2.26l2.26,2.26ZM580.5,584.82l2.26,2.26l2.26,-2.26l-2.26,-2.26l2.26,-2.26l-2.26,-2.26l-2.26,2.26l-2.26,-2.26l-2.26,2.26l2.26,2.26l-2.26,2.26l2.26,2.26ZM582.3,590.73l2.26,2.26l2.26,-2.26l-2.26,-2.26l2.26,-2.26l-2.26,-2.26l-2.26,2.26l-2.26,-2.26l-2.26,2.26l2.26,2.26l-2.26,2.26l2.26,2.26ZM583.6,590.38l2.26,2.26l2.26,-2.26l-2.26,-2.26l2.26,-2.26l-2.26,-2.26l-2.26,2.26l-2.26,-2.26l-2.26,2.26l2.26,2.26l-2.26,2.26l2.26,2.26ZM585.8,596.09l2.26,2.26l2.26,-2.26l-2.26,-2.26l2.26,-2.26l-2.26,-2.26l-2.26,2.26l-2.26,-2.26l-2.26,2.26l2.26,2.26l-2.26,2.26l2.26,2.26ZM587.7,594.24l2.26,2.26l2.26,-2.26l-2.26,-2.26l2.26,-2.26l-2.26,-2.26l-2.26,2.26l-2.26,-2.26l-2.26,2.26l2.26,2.26l-2.26,2.26l2.26,2.26ZM589.3,599.29l2.26,2.26l2.26,-2.26l-2.26,-2.26l2.26,-2.26l-2.26,-2.26l-2.26,2.26l-2.26,-2.26l-2.26,2.26l2.26,2.26l-2.26,2.26l2.26,2.26ZM590.8,598.63l2.26,2.26l2.26,-2.26l-2.26,-2.26l2.26,-2.26l-2.26,-2.26l-2.26,2.26l-2.26,-2.26l-2.26,2.26l2.26,2.26l-2.26,2.26l2.26,2.26ZM592.6,603.40l2.26,2.26l2.26,-2.26l-2.26,-2.26l2.26,-2.26l-2.26,-2.26l-2.26,2.26l-2.26,-2.26l-2.26,2.26l2.26,2.26l-2.26,2.26l2.26,2.26ZM593.5,602.81l2.26,2.26l2.26,-2.26l-2.26,-2.26l2.26,-2.26l-2.26,-2.26l-2.26,2.26l-2.26,-2.26l-2.26,2.26l2.26,2.26l-2.26,2.26l2.26,2.26ZM595.0,608.94l2.26,2.26l2.26,-2.26l-2.26,-2.26l2.26,-2.26l-2.26,-2.26l-2.26,2.26l-2.26,-2.26l-2.26,2.26l2.26,2.26l-2.26,2.26l2.26,2.26ZM597.4,604.83l2.26,2.26l2.26,-2.26l-2.26,-2.26l2.26,-2.26l-2.26,-2.26l-2.26,2.26l-2.26,-2.26l-2.26,2.26l2.26,2.26l-2.26,2.26l2.26,2.26ZM598.3,612.20l2.26,2.26l2.26,-2.26l-2.26,-2.26l2.26,-2.26l-2.26,-2.26l-2.26,2.26l-2.26,-2.26l-2.26,2.26l2.26,2.26l-2.26,2.26l2.26,2.26ZM600.0,609.20l2.26,2.26l2.26,-2.26l-2.26,-2.26l2.26,-2.26l-2.26,-2.26l-2.26,2.26l-2.26,-2.26l-2.26,2.26l2.26,2.26l-2.26,2.26l2.26,2.26ZM602.3,616.49l2.26,2.26l2.26,-2.26l-2.26,-2.26l2.26,-2.26l-2.26,-2.26l-2.26,2.26l-2.26,-2.26l-2.26,2.26l2.26,2.26l-2.26,2.26l2.26,2.26ZM603.9,614.29l2.26,2.26l2.26,-2.26l-2.26,-2.26l2.26,-2.26l-2.26,-2.26l-2.26,2.26l-2.26,-2.26l-2.26,2.26l2.26,2.26l-2.26,2.26l2.26,2.26ZM605.1,622.14l2.26,2.26l2.26,-2.26l-2.26,-2.26l2.26,-2.26l-2.26,-2.26l-2.26,2.26l-2.26,-2.26l-2.26,2.26l2.26,2.26l-2.26,2.26l2.26,2.26ZM606.2,619.49l2.26,2.26l2.26,-2.26l-2.26,-2.26l2.26,-2.26l-2.26,-2.26l-2.26,2.26l-2.26,-2.26l-2.26,2.26l2.26,2.26l-2.26,2.26l2.26,2.26ZM608.7,627.70l2.26,2.26l2.26,-2.26l-2.26,-2.26l2.26,-2.26l-2.26,-2.26l-2.26,2.26l-2.26,-2.26l-2.26,2.26l2.26,2.26l-2.26,2.26l2.26,2.26ZM610.7,624.30l2.26,2.26l2.26,-2.26l-2.26,-2.26l2.26,-2.26l-2.26,-2.26l-2.26,2.26l-2.26,-2.26l-2.26,2.26l2.26,2.26l-2.26,2.26l2.26,2.26ZM611.8,632.35l2.26,2.26l2.26,-2.26l-2.26,-2.26l2.26,-2.26l-2.26,-2.26l-2.26,2.26l-2.26,-2.26l-2.26,2.26l2.26,2.26l-2.26,2.26l2.26,2.26ZM613.4,630.69l2.26,2.26l2.26,-2.26l-2.26,-2.26l2.26,-2.26l-2.26,-2.26l-2.26,2.26l-2.26,-2.26l-2.26,2.26l2.26,2.26l-2.26,2.26l2.26,2.26ZM614.7,635.72l2.26,2.26l2.26,-2.26l-2.26,-2.26l2.26,-2.26l-2.26,-2.26l-2.26,2.26l-2.26,-2.26l-2.26,2.26l2.26,2.26l-2.26,2.26l2.26,2.26ZM616.2,634.15l2.26,2.26l2.26,-2.26l-2.26,-2.26l2.26,-2.26l-2.26,-2.26l-2.26,2.26l-2.26,-2.26l-2.26,2.26l2.26,2.26l-2.26,2.26l2.26,2.26ZM618.4,641.40l2.26,2.26l2.26,-2.26l-2.26,-2.26l2.26,-2.26l-2.26,-2.26l-2.26,2.26l-2.26,-2.26l-2.26,2.26l2.26,2.26l-2.26,2.26l2.26,2.26ZM620.1,638.61l2.26,2.26l2.26,-2.26l-2.26,-2.26l2.26,-2.26l-2.26,-2.26l-2.26,2.26l-2.26,-2.26l-2.26,2.26l2.26,2.26l-2.26,2.26l2.26,2.26ZM621.3,644.85l2.26,2.26l2.26,-2.26l-2.26,-2.26l2.26,-2.26l-2.26,-2.26l-2.26,2.26l-2.26,-2.26l-2.26,2.26l2.26,2.26l-2.26,2.26l2.26,2.26ZM623.7,644.84l2.26,2.26l2.26,-2.26l-2.26,-2.26l2.26,-2.26l-2.26,-2.26l-2.26,2.26l-2.26,-2.26l-2.26,2.26l2.26,2.26l-2.26,2.26l2.26,2.26ZM625.5,648.79l2.26,2.26l2.26,-2.26l-2.26,-2.26l2.26,-2.26l-2.26,-2.26l-2.26,2.26l-2.26,-2.26l-2.26,2.26l2.26,2.26l-2.26,2.26l2.26,2.26ZM626.1,648.94l2.26,2.26l2.26,-2.26l-2.26,-2.26l2.26,-2.26l-2.26,-2.26l-2.26,2.26l-2.26,-2.26l-2.26,2.26l2.26,2.26l-2.26,2.26l2.26,2.26ZM628.3,654.60l2.26,2.26l2.26,-2.26l-2.26,-2.26l2.26,-2.26l-2.26,-2.26l-2.26,2.26l-2.26,-2.26l-2.26,2.26l2.26,2.26l-2.26,2.26l2.26,2.26ZM629.8,651.98l2.26,2.26l2.26,-2.26l-2.26,-2.26l2.26,-2.26l-2.26,-2.26l-2.26,2.26l-2.26,-2.26l-2.26,2.26l2.26,2.26l-2.26,2.26l2.26,2.26ZM631.7,657.99l2.26,2.26l2.26,-2.26l-2.26,-2.26l2.26,-2.26l-2.26,-2.26l-2.26,2.26l-2.26,-2.26l-2.26,2.26l2.26,2.26l-2.26,2.26l2.26,2.26ZM633.4,655.09l2.26,2.26l2.26,-2.26l-2.26,-2.26l2.26,-2.26l-2.26,-2.26l-2.26,2.26l-2.26,-2.26l-2.26,2.26l2.26,2.26l-2.26,2.26l2.26,2.26ZM635.2,663.15l2.26,2.26l2.26,-2.26l-2.26,-2.26l2.26,-2.26l-2.26,-2.26l-2.26,2.26l-2.26,-2.26l-2.26,2.26l2.26,2.26l-2.26,2.26l2.26,2.26ZM636.3,660.27l2.26,2.26l2.26,-2.26l-2.26,-2.26l2.26,-2.26l-2.26,-2.26l-2.26,2.26l-2.26,-2.26l-2.26,2.26l2.26,2.26l-2.26,2.26l2.26,2.26ZM638.6,666.21l2.26,2.26l2.26,-2.26l-2.26,-2.26l2.26,-2.26l-2.26,-2.26l-2.26,2.26l-2.26,-2.26l-2.26,2.26l2.26,2.26l-2.26,2.26l2.26,2.26ZM639.6,663.70l2.26,2.26l2.26,-2.26l-2.26,-2.26l2.26,-2.26l-2.26,-2.26l-2.26,2.26l-2.26,-2.26l-2.26,2.26l2.26,2.26l-2.26,2.26l2.26,2.26ZM641.7,669.40l2.26,2.26l2.26,-2.26l-2.26,-2.26l2.26,-2.26l-2.26,-2.26l-2.26,2.26l-2.26,-2.26l-2.26,2.26l2.26,2.26l-2.26,2.26l2.26,2.26ZM643.8,669.34l2.26,2.26l2.26,-2.26l-2.26,-2.26l2.26,-2.26l-2.26,-2.26l-2.26,2.26l-2.26,-2.26l-2.26,2.26l2.26,2.26l-2.26,2.26l2.26,2.26ZM645.2,675.55l2.26,2.26l2.26,-2.26l-2.26,-2.26l2.26,-2.26l-2.26,-2.26l-2.26,2.26l-2.26,-2.26l-2.26,2.26l2.26,2.26l-2.26,2.26l2.26,2.26ZM646.8,672.51l2.26,2.26l2.26,-2.26l-2.26,-2.26l2.26,-2.26l-2.26,-2.26l-2.26,2.26l-2.26,-2.26l-2.26,2.26l2.26,2.26l-2.26,2.26l2.26,2.26ZM648.4,678.81l2.26,2.26l2.26,-2.26l-2.26,-2.26l2.26,-2.26l-2.26,-2.26l-2.26,2.26l-2.26,-2.26l-2.26,2.26l2.26,2.26l-2.26,2.26l2.26,2.26ZM650.6,677.59l2.26,2.26l2.26,-2.26l-2.26,-2.26l2.26,-2.26l-2.26,-2.26l-2.26,2.26l-2.26,-2.26l-2.26,2.26l2.26,2.26l-2.26,2.26l2.26,2.26ZM648.2,679.73l2.26,2.26l2.26,-2.26l-2.26,-2.26l2.26,-2.26l-2.26,-2.26l-2.26,2.26l-2.26,-2.26l-2.26,2.26l2.26,2.26l-2.26,2.26l2.26,2.26ZM647.3,673.29l2.26,2.26l2.26,-2.26l-2.26,-2.26l2.26,-2.26l-2.26,-2.26l-2.26,2.26l-2.26,-2.26l-2.26,2.26l2.26,2.26l-2.26,2.26l2.26,2.26ZM645.9,674.27l2.26,2.26l2.26,-2.26l-2.26,-2.26l2.26,-2.26l-2.26,-2.26l-2.26,2.26l-2.26,-2.26l-2.26,2.26l2.26,2.26l-2.26,2.26l2.26,2.26ZM644.5,669.29l2.26,2.26l2.26,-2.26l-2.26,-2.26l2.26,-2.26l-2.26,-2.26l-2.26,2.26l-2.26,-2.26l-2.26,2.26l2.26,2.26l-2.26,2.26l2.26,2.26ZM642.7,670.90l2.26,2.26l2.26,-2.26l-2.26,-2.26l2.26,-2.26l-2.26,-2.26l-2.26,2.26l-2.26,-2.26l-2.26,2.26l2.26,2.26l-2.26,2.26l2.26,2.26ZM644.5,668.31l2.26,2.26l2.26,-2.26l-2.26,-2.26l2.26,-2.26l-2.26,-2.26l-2.26,2.26l-2.26,-2.26l-2.26,2.26l2.26,2.26l-2.26,2.26l2.26,2.26ZM646.0,673.78l2.26,2.26l2.26,-2.26l-2.26,-2.26l2.26,-2.26l-2.26,-2.26l-2.26,2.26l-2.26,-2.26l-2.26,2.26l2.26,2.26l-2.26,2.26l2.26,2.26ZM647.2,673.02l2.26,2.26l2.26,-2.26l-2.26,-2.26l2.26,-2.26l-2.26,-2.26l-2.26,2.26l-2.26,-2.26l-2.26,2.26l2.26,2.26l-2.26,2.26l2.26,2.26ZM648.4,679.02l2.26,2.26l2.26,-2.26l-2.26,-2.26l2.26,-2.26l-2.26,-2.26l-2.26,2.26l-2.26,-2.26l-2.26,2.26l2.26,2.26l-2.26,2.26l2.26,2.26ZM650.8,677.95l2.26,2.26l2.26,-2.26l-2.26,-2.26l2.26,-2.26l-2.26,-2.26l-2.26,2.26l-2.26,-2.26l-2.26,2.26l2.26,2.26l-2.26,2.26l2.26,2.26ZM652.0,684.99l2.26,2.26l2.26,-2.26l-2.26,-2.26l2.26,-2.26l-2.26,-2.26l-2.26,2.26l-2.26,-2.26l-2.26,2.26l2.26,2.26l-2.26,2.26l2.26,2.26ZM654.1,681.82l2.26,2.26l2.26,-2.26l-2.26,-2.26l2.26,-2.26l-2.26,-2.26l-2.26,2.26l-2.26,-2.26l-2.26,2.26l2.26,2.26l-2.26,2.26l2.26,2.26ZM655.8,688.65l2.26,2.26l2.26,-2.26l-2.26,-2.26l2.26,-2.26l-2.26,-2.26l-2.26,2.26l-2.26,-2.26l-2.26,2.26l2.26,2.26l-2.26,2.26l2.26,2.26ZM657.2,686.50l2.26,2.26l2.26,-2.26l-2.26,-2.26l2.26,-2.26l-2.26,-2.26l-2.26,2.26l-2.26,-2.26l-2.26,2.26l2.26,2.26l-2.26,2.26l2.26,2.26ZM659.4,693.38l2.26,2.26l2.26,-2.26l-2.26,-2.26l2.26,-2.26l-2.26,-2.26l-2.26,2.26l-2.26,-2.26l-2.26,2.26l2.26,2.26l-2.26,2.26l2.26,2.26ZM660.7,691.94l2.26,2.26l2.26,-2.26l-2.26,-2.26l2.26,-2.26l-2.26,-2.26l-2.26,2.26l-2.26,-2.26l-2.26,2.26l2.26,2.26l-2.26,2.26l2.26,2.26ZM662.6,696.45l2.26,2.26l2.26,-2.26l-2.26,-2.26l2.26,-2.26l-2.26,-2.26l-2.26,2.26l-2.26,-2.26l-2.26,2.26l2.26,2.26l-2.26,2.26l2.26,2.26ZM663.8,696.44l2.26,2.26l2.26,-2.26l-2.26,-2.26l2.26,-2.26l-2.26,-2.26l-2.26,2.26l-2.26,-2.26l-2.26,2.26l2.26,2.26l-2.26,2.26l2.26,2.26ZM665.0,701.91l2.26,2.26l2.26,-2.26l-2.26,-2.26l2.26,-2.26l-2.26,-2.26l-2.26,2.26l-2.26,-2.26l-2.26,2.26l2.26,2.26l-2.26,2.26l2.26,2.26ZM666.4,699.70l2.26,2.26l2.26,-2.26l-2.26,-2.26l2.26,-2.26l-2.26,-2.26l-2.26,2.26l-2.26,-2.26l-2.26,2.26l2.26,2.26l-2.26,2.26l2.26,2.26ZM668.4,705.74l2.26,2.26l2.26,-2.26l-2.26,-2.26l2.26,-2.26l-2.26,-2.26l-2.26,2.26l-2.26,-2.26l-2.26,2.26l2.26,2.26l-2.26,2.26l2.26,2.26ZM669.9,705.96l2.26,2.26l2.26,-2.26l-2.26,-2.26l2.26,-2.26l-2.26,-2.26l-2.26,2.26l-2.26,-2.26l-2.26,2.26l2.26,2.26l-2.26,2.26l2.26,2.26ZM671.9,711.28l2.26,2.26l2.26,-2.26l-2.26,-2.26l2.26,-2.26l-2.26,-2.26l-2.26,2.26l-2.26,-2.26l-2.26,2.26l2.26,2.26l-2.26,2.26l2.26,2.26ZM674.0,709.38l2.26,2.26l2.26,-2.26l-2.26,-2.26l2.26,-2.26l-2.26,-2.26l-2.26,2.26l-2.26,-2.26l-2.26,2.26l2.26,2.26l-2.26,2.26l2.26,2.26ZM675.7,715.50l2.26,2.26l2.26,-2.26l-2.26,-2.26l2.26,-2.26l-2.26,-2.26l-2.26,2.26l-2.26,-2.26l-2.26,2.26l2.26,2.26l-2.26,2.26l2.26,2.26ZM677.1,712.11l2.26,2.26l2.26,-2.26l-2.26,-2.26l2.26,-2.26l-2.26,-2.26l-2.26,2.26l-2.26,-2.26l-2.26,2.26l2.26,2.26l-2.26,2.26l2.26,2.26ZM678.5,719.70l2.26,2.26l2.26,-2.26l-2.26,-2.26l2.26,-2.26l-2.26,-2.26l-2.26,2.26l-2.26,-2.26l-2.26,2.26l2.26,2.26l-2.26,2.26l2.26,2.26ZM679.4,718.07l2.26,2.26l2.26,-2.26l-2.26,-2.26l2.26,-2.26l-2.26,-2.26l-2.26,2.26l-2.26,-2.26l-2.26,2.26l2.26,2.26l-2.26,2.26l2.26,2.26ZM681.2,722.93l2.26,2.26l2.26,-2.26l-2.26,-2.26l2.26,-2.26l-2.26,-2.26l-2.26,2.26l-2.26,-2.26l-2.26,2.26l2.26,2.26l-2.26,2.26l2.26,2.26ZM682.8,720.94l2.26,2.26l2.26,-2.26l-2.26,-2.26l2.26,-2.26l-2.26,-2.26l-2.26,2.26l-2.26,-2.26l-2.26,2.26l2.26,2.26l-2.26,2.26l2.26,2.26ZM685.0,725.84l2.26,2.26l2.26,-2.26l-2.26,-2.26l2.26,-2.26l-2.26,-2.26l-2.26,2.26l-2.26,-2.26l-2.26,2.26l2.26,2.26l-2.26,2.26l2.26,2.26ZM687.0,724.67l2.26,2.26l2.26,-2.26l-2.26,-2.26l2.26,-2.26l-2.26,-2.26l-2.26,2.26l-2.26,-2.26l-2.26,2.26l2.26,2.26l-2.26,2.26l2.26,2.26ZM688.1,730.16l2.26,2.26l2.26,-2.26l-2.26,-2.26l2.26,-2.26l-2.26,-2.26l-2.26,2.26l-2.26,-2.26l-2.26,2.26l2.26,2.26l-2.26,2.26l2.26,2.26ZM689.5,726.47l2.26,2.26l2.26,-2.26l-2.26,-2.26l2.26,-2.26l-2.26,-2.26l-2.26,2.26l-2.26,-2.26l-2.26,2.26l2.26,2.26l-2.26,2.26l2.26,2.26ZM691.5,732.20l2.26,2.26l2.26,-2.26l-2.26,-2.26l2.26,-2.26l-2.26,-2.26l-2.26,2.26l-2.26,-2.26l-2.26,2.26l2.26,2.26l-2.26,2.26l2.26,2.26ZM692.6,729.63l2.26,2.26l2.26,-2.26l-2.26,-2.26l2.26,-2.26l-2.26,-2.26l-2.26,2.26l-2.26,-2.26l-2.26,2.26l2.26,2.26l-2.26,2.26l2.26,2.26ZM694.3,733.01l2.26,2.26l2.26,-2.26l-2.26,-2.26l2.26,-2.26l-2.26,-2.26l-2.26,2.26l-2.26,-2.26l-2.26,2.26l2.26,2.26l-2.26,2.26l2.26,2.26ZM695.8,730.14l2.26,2.26l2.26,-2.26l-2.26,-2.26l2.26,-2.26l-2.26,-2.26l-2.26,2.26l-2.26,-2.26l-2.26,2.26l2.26,2.26l-2.26,2.26l2.26,2.26ZM697.3,736.92l2.26,2.26l2.26,-2.26l-2.26,-2.26l2.26,-2.26l-2.26,-2.26l-2.26,2.26l-2.26,-2.26l-2.26,2.26l2.26,2.26l-2.26,2.26l2.26,2.26ZM699.2,734.32l2.26,2.26l2.26,-2.26l-2.26,-2.26l2.26,-2.26l-2.26,-2.26l-2.26,2.26l-2.26,-2.26l-2.26,2.26l2.26,2.26l-2.26,2.26l2.26,2.26ZM701.2,737.35l2.26,2.26l2.26,-2.26l-2.26,-2.26l2.26,-2.26l-2.26,-2.26l-2.26,2.26l-2.26,-2.26l-2.26,2.26l2.26,2.26l-2.26,2.26l2.26,2.26ZM703.1,736.56l2.26,2.26l2.26,-2.26l-2.26,-2.26l2.26,-2.26l-2.26,-2.26l-2.26,2.26l-2.26,-2.26l-2.26,2.26l2.26,2.26l-2.26,2.26l2.26,2.26ZM703.6,741.53l2.26,2.26l2.26,-2.26l-2.26,-2.26l2.26,-2.26l-2.26,-2.26l-2.26,2.26l-2.26,-2.26l-2.26,2.26l2.26,2.26l-2.26,2.26l2.26,2.26ZM705.6,737.32l2.26,2.26l2.26,-2.26l-2.26,-2.26l2.26,-2.26l-2.26,-2.26l-2.26,2.26l-2.26,-2.26l-2.26,2.26l2.26,2.26l-2.26,2.26l2.26,2.26ZM707.9,741.57l2.26,2.26l2.26,-2.26l-2.26,-2.26l2.26,-2.26l-2.26,-2.26l-2.26,2.26l-2.26,-2.26l-2.26,2.26l2.26,2.26l-2.26,2.26l2.26,2.26ZM709.0,740.04l2.26,2.26l2.26,-2.26l-2.26,-2.26l2.26,-2.26l-2.26,-2.26l-2.26,2.26l-2.26,-2.26l-2.26,2.26l2.26,2.26l-2.26,2.26l2.26,2.26ZM710.9,743.73l2.26,2.26l2.26,-2.26l-2.26,-2.26l2.26,-2.26l-2.26,-2.26l-2.26,2.26l-2.26,-2.26l-2.26,2.26l2.26,2.26l-2.26,2.26l2.26,2.26ZM712.8,741.38l2.26,2.26l2.26,-2.26l-2.26,-2.26l2.26,-2.26l-2.26,-2.26l-2.26,2.26l-2.26,-2.26l-2.26,2.26l2.26,2.26l-2.26,2.26l2.26,2.26ZM714.0,744.50l2.26,2.26l2.26,-2.26l-2.26,-2.26l2.26,-2.26l-2.26,-2.26l-2.26,2.26l-2.26,-2.26l-2.26,2.26l2.26,2.26l-2.26,2.26l2.26,2.26ZM715.6,742.13l2.26,2.26l2.26,-2.26l-2.26,-2.26l2.26,-2.26l-2.26,-2.26l-2.26,2.26l-2.26,-2.26l-2.26,2.26l2.26,2.26l-2.26,2.26l2.26,2.26ZM716.7,745.97l2.26,2.26l2.26,-2.26l-2.26,-2.26l2.26,-2.26l-2.26,-2.26l-2.26,2.26l-2.26,-2.26l-2.26,2.26l2.26,2.26l-2.26,2.26l2.26,2.26ZM718.7,742.96l2.26,2.26l2.26,-2.26l-2.26,-2.26l2.26,-2.26l-2.26,-2.26l-2.26,2.26l-2.26,-2.26l-2.26,2.26l2.26,2.26l-2.26,2.26l2.26,2.26ZM720.3,748.48l2.26,2.26l2.26,-2.26l-2.26,-2.26l2.26,-2.26l-2.26,-2.26l-2.26,2.26l-2.26,-2.26l-2.26,2.26l2.26,2.26l-2.26,2.26l2.26,2.26ZM722.0,743.72l2.26,2.26l2.26,-2.26l-2.26,-2.26l2.26,-2.26l-2.26,-2.26l-2.26,2.26l-2.26,-2.26l-2.26,2.26l2.26,2.26l-2.26,2.26l2.26,2.26ZM723.8,748.31l2.26,2.26l2.26,-2.26l-2.26,-2.26l2.26,-2.26l-2.26,-2.26l-2.26,2.26l-2.26,-2.26l-2.26,2.26l2.26,2.26l-2.26,2.26l2.26,2.26ZM725.7,744.79l2.26,2.26l2.26,-2.26l-2.26,-2.26l2.26,-2.26l-2.26,-2.26l-2.26,2.26l-2.26,-2.26l-2.26,2.26l2.26,2.26l-2.26,2.26l2.26,2.26ZM727.7,750.02l2.26,2.26l2.26,-2.26l-2.26,-2.26l2.26,-2.26l-2.26,-2.26l-2.26,2.26l-2.26,-2.26l-2.26,2.26l2.26,2.26l-2.26,2.26l2.26,2.26ZM729.0,744.52l2.26,2.26l2.26,-2.26l-2.26,-2.26l2.26,-2.26l-2.26,-2.26l-2.26,2.26l-2.26,-2.26l-2.26,2.26l2.26,2.26l-2.26,2.26l2.26,2.26ZM729.9,750.30l2.26,2.26l2.26,-2.26l-2.26,-2.26l2.26,-2.26l-2.26,-2.26l-2.26,2.26l-2.26,-2.26l-2.26,2.26l2.26,2.26l-2.26,2.26l2.26,2.26ZM732.4,745.00l2.26,2.26l2.26,-2.26l-2.26,-2.26l2.26,-2.26l-2.26,-2.26l-2.26,2.26l-2.26,-2.26l-2.26,2.26l2.26,2.26l-2.26,2.26l2.26,2.26ZM733.5,747.50l2.26,2.26l2.26,-2.26l-2.26,-2.26l2.26,-2.26l-2.26,-2.26l-2.26,2.26l-2.26,-2.26l-2.26,2.26l2.26,2.26l-2.26,2.26l2.26,2.26ZM735.5,743.55l2.26,2.26l2.26,-2.26l-2.26,-2.26l2.26,-2.26l-2.26,-2.26l-2.26,2.26l-2.26,-2.26l-2.26,2.26l2.26,2.26l-2.26,2.26l2.26,2.26ZM737.0,747.06l2.26,2.26l2.26,-2.26l-2.26,-2.26l2.26,-2.26l-2.26,-2.26l-2.26,2.26l-2.26,-2.26l-2.26,2.26l2.26,2.26l-2.26,2.26l2.26,2.26ZM738.9,741.34l2.26,2.26l2.26,-2.26l-2.26,-2.26l2.26,-2.26l-2.26,-2.26l-2.26,2.26l-2.26,-2.26l-2.26,2.26l2.26,2.26l-2.26,2.26l2.26,2.26ZM739.9,746.58l2.26,2.26l2.26,-2.26l-2.26,-2.26l2.26,-2.26l-2.26,-2.26l-2.26,2.26l-2.26,-2.26l-2.26,2.26l2.26,2.26l-2.26,2.26l2.26,2.26ZM742.3,741.68l2.26,2.26l2.26,-2.26l-2.26,-2.26l2.26,-2.26l-2.26,-2.26l-2.26,2.26l-2.26,-2.26l-2.26,2.26l2.26,2.26l-2.26,2.26l2.26,2.26ZM742.9,743.06l2.26,2.26l2.26,-2.26l-2.26,-2.26l2.26,-2.26l-2.26,-2.26l-2.26,2.26l-2.26,-2.26l-2.26,2.26l2.26,2.26l-2.26,2.26l2.26,2.26ZM744.8,739.28l2.26,2.26l2.26,-2.26l-2.26,-2.26l2.26,-2.26l-2.26,-2.26l-2.26,2.26l-2.26,-2.26l-2.26,2.26l2.26,2.26l-2.26,2.26l2.26,2.26ZM746.9,740.88l2.26,2.26l2.26,-2.26l-2.26,-2.26l2.26,-2.26l-2.26,-2.26l-2.26,2.26l-2.26,-2.26l-2.26,2.26l2.26,2.26l-2.26,2.26l2.26,2.26ZM748.4,735.19l2.26,2.26l2.26,-2.26l-2.26,-2.26l2.26,-2.26l-2.26,-2.26l-2.26,2.26l-2.26,-2.26l-2.26,2.26l2.26,2.26l-2.26,2.26l2.26,2.26ZM749.5,739.02l2.26,2.26l2.26,-2.26l-2.26,-2.26l2.26,-2.26l-2.26,-2.26l-2.26,2.26l-2.26,-2.26l-2.26,2.26l2.26,2.26l-2.26,2.26l2.26,2.26ZM751.6,733.29l2.26,2.26l2.26,-2.26l-2.26,-2.26l2.26,-2.26l-2.26,-2.26l-2.26,2.26l-2.26,-2.26l-2.26,2.26l2.26,2.26l-2.26,2.26l2.26,2.26ZM753.1,735.30l2.26,2.26l2.26,-2.26l-2.26,-2.26l2.26,-2.26l-2.26,-2.26l-2.26,2.26l-2.26,-2.26l-2.26,2.26l2.26,2.26l-2.26,2.26l2.26,2.26ZM754.5,729.35l2.26,2.26l2.26,-2.26l-2.26,-2.26l2.26,-2.26l-2.26,-2.26l-2.26,2.26l-2.26,-2.26l-2.26,2.26l2.26,2.26l-2.26,2.26l2.26,2.26ZM756.7,732.92l2.26,2.26l2.26,-2.26l-2.26,-2.26l2.26,-2.26l-2.26,-2.26l-2.26,2.26l-2.26,-2.26l-2.26,2.26l2.26,2.26l-2.26,2.26l2.26,2.26ZM757.6,725.57l2.26,2.26l2.26,-2.26l-2.26,-2.26l2.26,-2.26l-2.26,-2.26l-2.26,2.26l-2.26,-2.26l-2.26,2.26l2.26,2.26l-2.26,2.26l2.26,2.26ZM760.1,729.16l2.26,2.26l2.26,-2.26l-2.26,-2.26l2.26,-2.26l-2.26,-2.26l-2.26,2.26l-2.26,-2.26l-2.26,2.26l2.26,2.26l-2.26,2.26l2.26,2.26ZM761.7,722.87l2.26,2.26l2.26,-2.26l-2.26,-2.26l2.26,-2.26l-2.26,-2.26l-2.26,2.26l-2.26,-2.26l-2.26,2.26l2.26,2.26l-2.26,2.26l2.26,2.26ZM762.9,725.68l2.26,2.26l2.26,-2.26l-2.26,-2.26l2.26,-2.26l-2.26,-2.26l-2.26,2.26l-2.26,-2.26l-2.26,2.26l2.26,2.26l-2.26,2.26l2.26,2.26ZM765.0,720.65l2.26,2.26l2.26,-2.26l-2.26,-2.26l2.26,-2.26l-2.26,-2.26l-2.26,2.26l-2.26,-2.26l-2.26,2.26l2.26,2.26l-2.26,2.26l2.26,2.26ZM766.4,724.83l2.26,2.26l2.26,-2.26l-2.26,-2.26l2.26,-2.26l-2.26,-2.26l-2.26,2.26l-2.26,-2.26l-2.26,2.26l2.26,2.26l-2.26,2.26l2.26,2.26ZM767.7,718.48l2.26,2.26l2.26,-2.26l-2.26,-2.26l2.26,-2.26l-2.26,-2.26l-2.26,2.26l-2.26,-2.26l-2.26,2.26l2.26,2.26l-2.26,2.26l2.26,2.26ZM769.8,722.07l2.26,2.26l2.26,-2.26l-2.26,-2.26l2.26,-2.26l-2.26,-2.26l-2.26,2.26l-2.26,-2.26l-2.26,2.26l2.26,2.26l-2.26,2.26l2.26,2.26ZM771.0,715.45l2.26,2.26l2.26,-2.26l-2.26,-2.26l2.26,-2.26l-2.26,-2.26l-2.26,2.26l-2.26,-2.26l-2.26,2.26l2.26,2.26l-2.26,2.26l2.26,2.26ZM772.3,719.36l2.26,2.26l2.26,-2.26l-2.26,-2.26l2.26,-2.26l-2.26,-2.26l-2.26,2.26l-2.26,-2.26l-2.26,2.26l2.26,2.26l-2.26,2.26l2.26,2.26ZM773.9,712.16l2.26,2.26l2.26,-2.26l-2.26,-2.26l2.26,-2.26l-2.26,-2.26l-2.26,2.26l-2.26,-2.26l-2.26,2.26l2.26,2.26l-2.26,2.26l2.26,2.26ZM776.1,715.66l2.26,2.26l2.26,-2.26l-2.26,-2.26l2.26,-2.26l-2.26,-2.26l-2.26,2.26l-2.26,-2.26l-2.26,2.26l2.26,2.26l-2.26,2.26l2.26,2.26ZM777.9,709.74l2.26,2.26l2.26,-2.26l-2.26,-2.26l2.26,-2.26l-2.26,-2.26l-2.26,2.26l-2.26,-2.26l-2.26,2.26l2.26,2.26l-2.26,2.26l2.26,2.26ZM779.6,711.74l2.26,2.26l2.26,-2.26l-2.26,-2.26l2.26,-2.26l-2.26,-2.26l-2.26,2.26l-2.26,-2.26l-2.26,2.26l2.26,2.26l-2.26,2.26l2.26,2.26ZM780.5,707.68l2.26,2.26l2.26,-2.26l-2.26,-2.26l2.26,-2.26l-2.26,-2.26l-2.26,2.26l-2.26,-2.26l-2.26,2.26l2.26,2.26l-2.26,2.26l2.26,2.26ZM782.0,709.36l2.26,2.26l2.26,-2.26l-2.26,-2.26l2.26,-2.26l-2.26,-2.26l-2.26,2.26l-2.26,-2.26l-2.26,2.26l2.26,2.26l-2.26,2.26l2.26,2.26ZM784.4,704.83l2.26,2.26l2.26,-2.26l-2.26,-2.26l2.26,-2.26l-2.26,-2.26l-2.26,2.26l-2.26,-2.26l-2.26,2.26l2.26,2.26l-2.26,2.26l2.26,2.26ZM785.5,706.04l2.26,2.26l2.26,-2.26l-2.26,-2.26l2.26,-2.26l-2.26,-2.26l-2.26,2.26l-2.26,-2.26l-2.26,2.26l2.26,2.26l-2.26,2.26l2.26,2.26ZM787.2,701.97l2.26,2.26l2.26,-2.26l-2.26,-2.26l2.26,-2.26l-2.26,-2.26l-2.26,2.26l-2.26,-2.26l-2.26,2.26l2.26,2.26l-2.26,2.26l2.26,2.26ZM788.8,703.04l2.26,2.26l2.26,-2.26l-2.26,-2.26l2.26,-2.26l-2.26,-2.26l-2.26,2.26l-2.26,-2.26l-2.26,2.26l2.26,2.26l-2.26,2.26l2.26,2.26ZM791.0,698.07l2.26,2.26l2.26,-2.26l-2.26,-2.26l2.26,-2.26l-2.26,-2.26l-2.26,2.26l-2.26,-2.26l-2.26,2.26l2.26,2.26l-2.26,2.26l2.26,2.26ZM793.0,700.90l2.26,2.26l2.26,-2.26l-2.26,-2.26l2.26,-2.26l-2.26,-2.26l-2.26,2.26l-2.26,-2.26l-2.26,2.26l2.26,2.26l-2.26,2.26l2.26,2.26ZM794.8,693.63l2.26,2.26l2.26,-2.26l-2.26,-2.26l2.26,-2.26l-2.26,-2.26l-2.26,2.26l-2.26,-2.26l-2.26,2.26l2.26,2.26l-2.26,2.26l2.26,2.26ZM796.4,695.25l2.26,2.26l2.26,-2.26l-2.26,-2.26l2.26,-2.26l-2.26,-2.26l-2.26,2.26l-2.26,-2.26l-2.26,2.26l2.26,2.26l-2.26,2.26l2.26,2.26ZM797.6,689.42l2.26,2.26l2.26,-2.26l-2.26,-2.26l2.26,-2.26l-2.26,-2.26l-2.26,2.26l-2.26,-2.26l-2.26,2.26l2.26,2.26l-2.26,2.26l2.26,2.26ZM800.1,693.45l2.26,2.26l2.26,-2.26l-2.26,-2.26l2.26,-2.26l-2.26,-2.26l-2.26,2.26l-2.26,-2.26l-2.26,2.26l2.26,2.26l-2.26,2.26l2.26,2.26ZM801.0,687.01l2.26,2.26l2.26,-2.26l-2.26,-2.26l2.26,-2.26l-2.26,-2.26l-2.26,2.26l-2.26,-2.26l-2.26,2.26l2.26,2.26l-2.26,2.26l2.26,2.26ZM802.9,689.85l2.26,2.26l2.26,-2.26l-2.26,-2.26l2.26,-2.26l-2.26,-2.26l-2.26,2.26l-2.26,-2.26l-2.26,2.26l2.26,2.26l-2.26,2.26l2.26,2.26ZM804.7,684.75l2.26,2.26l2.26,-2.26l-2.26,-2.26l2.26,-2.26l-2.26,-2.26l-2.26,2.26l-2.26,-2.26l-2.26,2.26l2.26,2.26l-2.26,2.26l2.26,2.26ZM806.2,688.01l2.26,2.26l2.26,-2.26l-2.26,-2.26l2.26,-2.26l-2.26,-2.26l-2.26,2.26l-2.26,-2.26l-2.26,2.26l2.26,2.26l-2.26,2.26l2.26,2.26ZM808.4,684.68l2.26,2.26l2.26,-2.26l-2.26,-2.26l2.26,-2.26l-2.26,-2.26l-2.26,2.26l-2.26,-2.26l-2.26,2.26l2.26,2.26l-2.26,2.26l2.26,2.26ZM810.0,689.46l2.26,2.26l2.26,-2.26l-2.26,-2.26l2.26,-2.26l-2.26,-2.26l-2.26,2.26l-2.26,-2.26l-2.26,2.26l2.26,2.26l-2.26,2.26l2.26,2.26ZM810.6,686.66l2.26,2.26l2.26,-2.26l-2.26,-2.26l2.26,-2.26l-2.26,-2.26l-2.26,2.26l-2.26,-2.26l-2.26,2.26l2.26,2.26l-2.26,2.26l2.26,2.26ZM812.5,688.76l2.26,2.26l2.26,-2.26l-2.26,-2.26l2.26,-2.26l-2.26,-2.26l-2.26,2.26l-2.26,-2.26l-2.26,2.26l2.26,2.26l-2.26,2.26l2.26,2.26ZM881.3,425.06l2.26,2.26l2.26,-2.26l-2.26,-2.26l2.26,-2.26l-2.26,-2.26l-2.26,2.26l-2.26,-2.26l-2.26,2.26l2.26,2.26l-2.26,2.26l2.26,2.26Z" fill="#fdb130"/>
</svg>
</body></html>
